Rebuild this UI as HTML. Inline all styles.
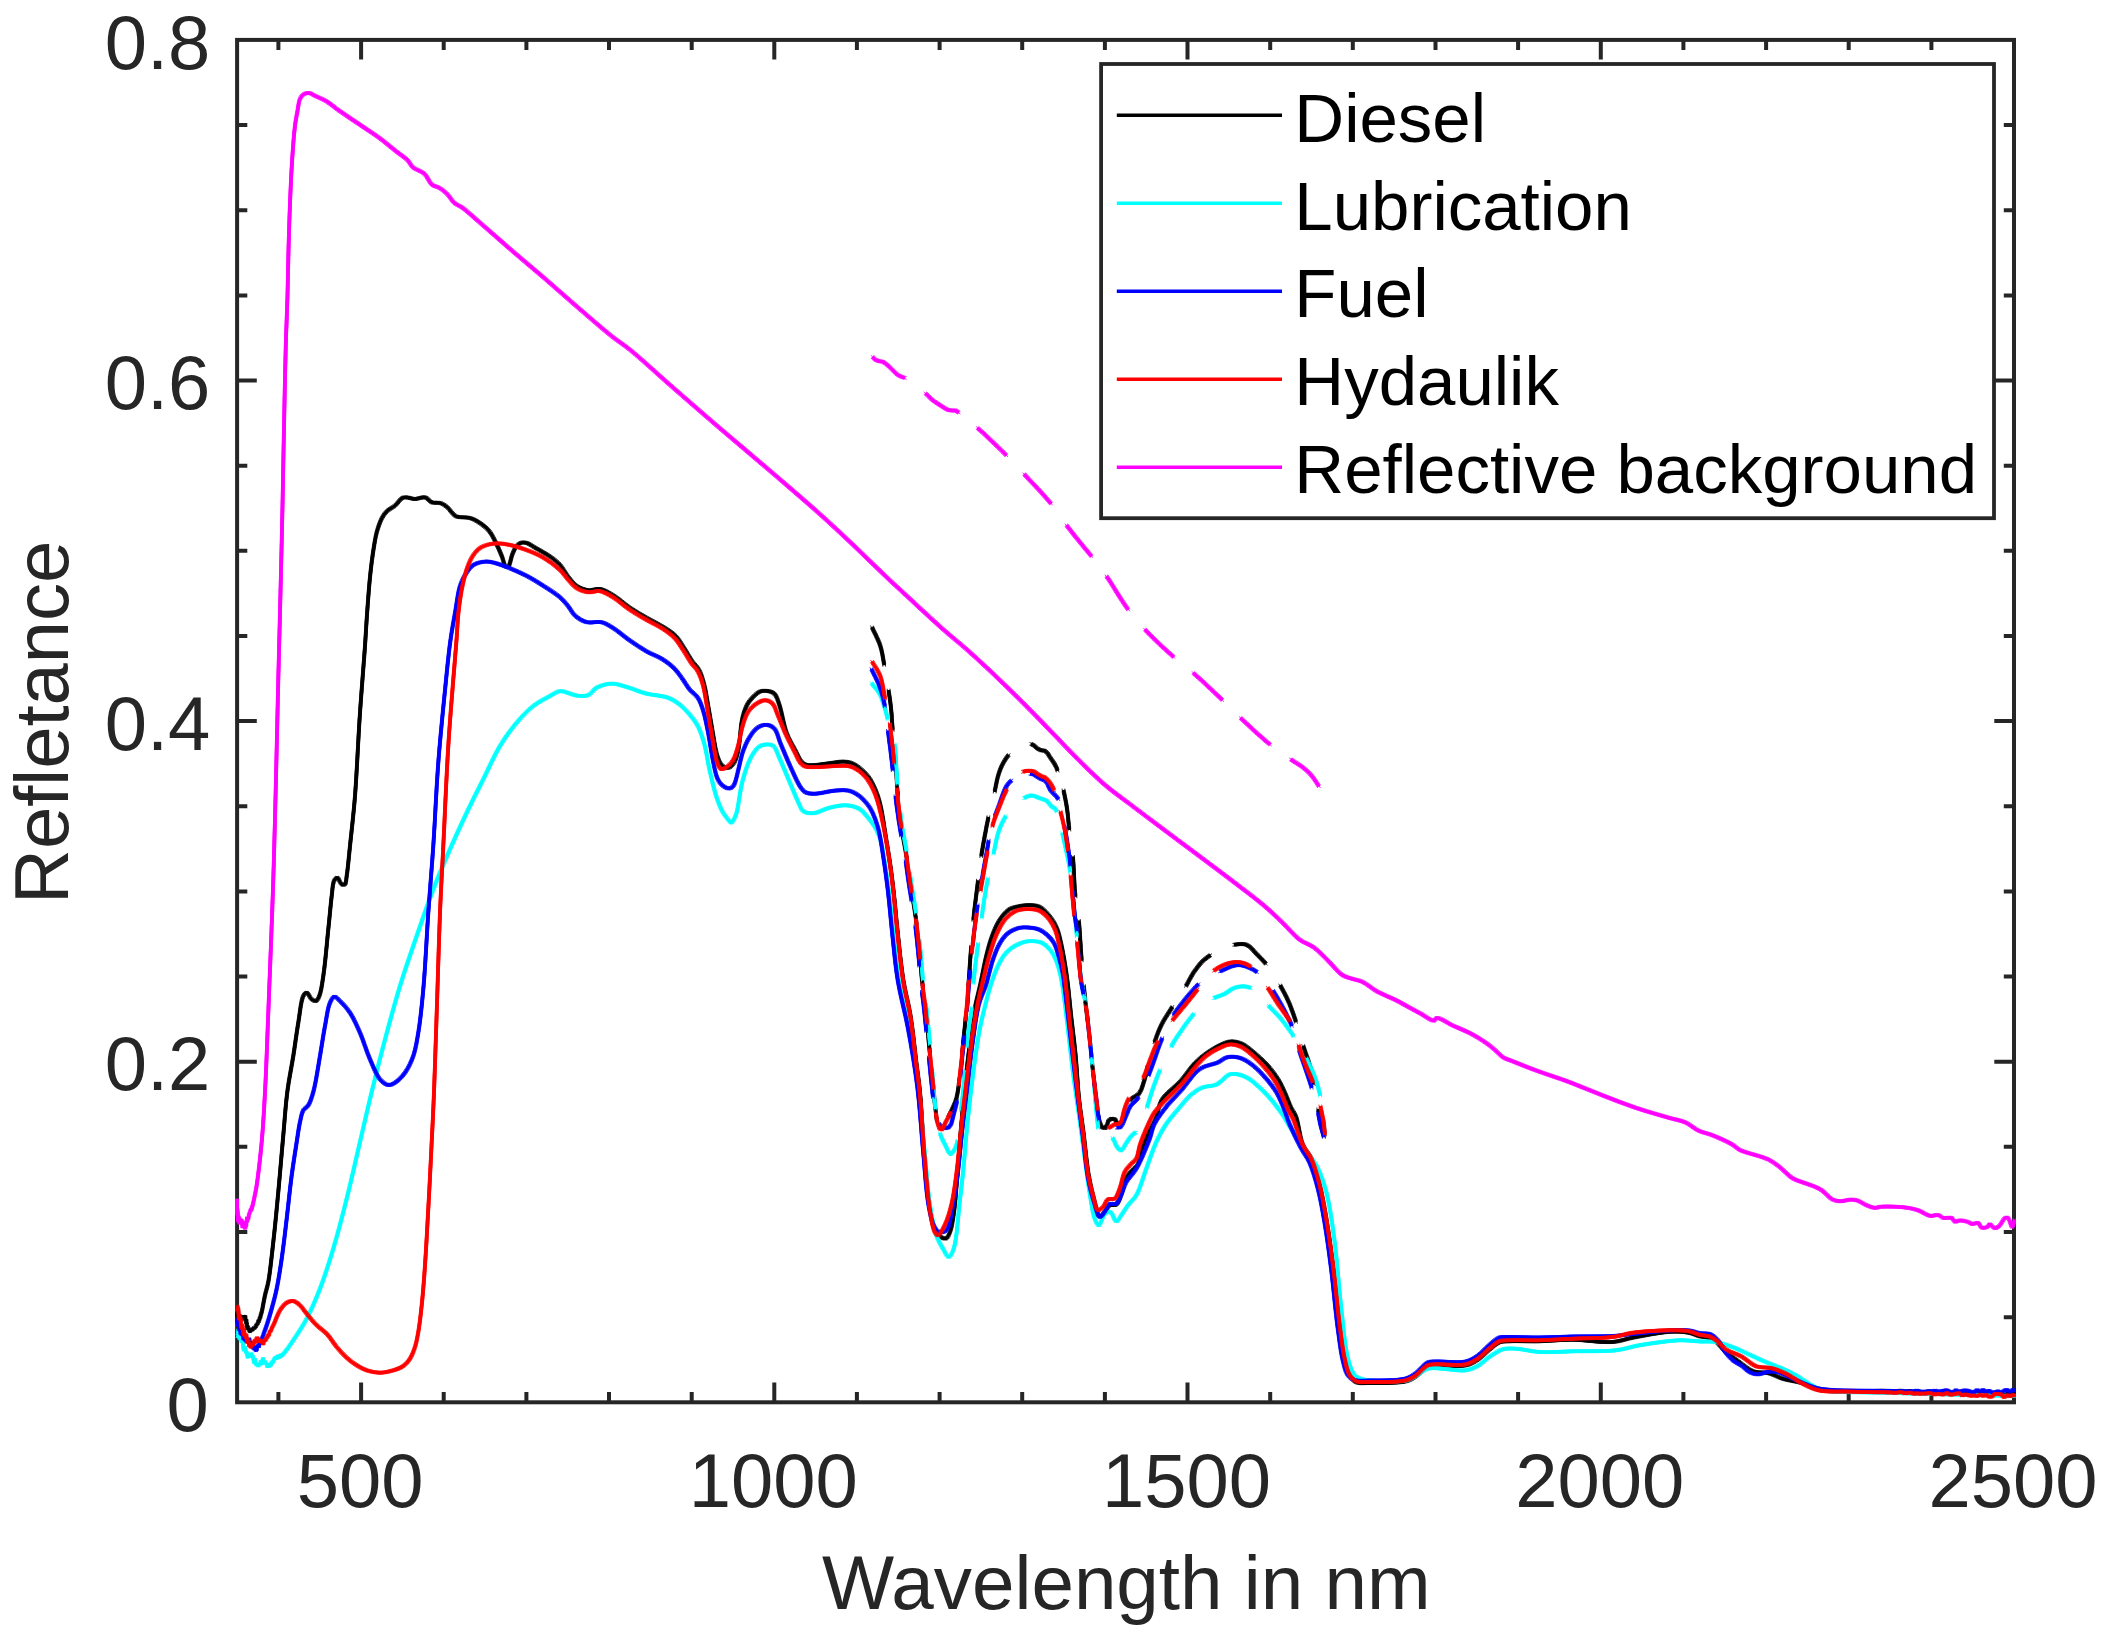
<!DOCTYPE html>
<html><head><meta charset="utf-8"><title>Reflectance spectra</title>
<style>html,body{margin:0;padding:0;background:#fff}svg{display:block}text{font-family:"Liberation Sans",Arial,Helvetica,sans-serif}</style></head>
<body>
<svg width="2109" height="1638" viewBox="0 0 2109 1638">
<rect width="2109" height="1638" fill="#fff"/>
<defs><clipPath id="c"><rect x="235.1" y="37.9" width="1780.9" height="1366.4"/></clipPath></defs>
<g stroke="#262626" stroke-width="4" fill="none" stroke-linecap="butt">
<rect x="237.1" y="39.9" width="1776.9" height="1362.4"/>
<path d="M278.4 1402.3v-10.2M278.4 39.9v10.2M361.1 1402.3v-19.7M361.1 39.9v19.7M443.7 1402.3v-10.2M443.7 39.9v10.2M526.4 1402.3v-10.2M526.4 39.9v10.2M609.0 1402.3v-10.2M609.0 39.9v10.2M691.7 1402.3v-10.2M691.7 39.9v10.2M774.3 1402.3v-19.7M774.3 39.9v19.7M856.9 1402.3v-10.2M856.9 39.9v10.2M939.6 1402.3v-10.2M939.6 39.9v10.2M1022.2 1402.3v-10.2M1022.2 39.9v10.2M1104.9 1402.3v-10.2M1104.9 39.9v10.2M1187.5 1402.3v-19.7M1187.5 39.9v19.7M1270.2 1402.3v-10.2M1270.2 39.9v10.2M1352.8 1402.3v-10.2M1352.8 39.9v10.2M1435.5 1402.3v-10.2M1435.5 39.9v10.2M1518.1 1402.3v-10.2M1518.1 39.9v10.2M1600.8 1402.3v-19.7M1600.8 39.9v19.7M1683.4 1402.3v-10.2M1683.4 39.9v10.2M1766.1 1402.3v-10.2M1766.1 39.9v10.2M1848.7 1402.3v-10.2M1848.7 39.9v10.2M1931.4 1402.3v-10.2M1931.4 39.9v10.2M237.1 1317.2h10.2M2014.0 1317.2h-10.2M237.1 1232.0h10.2M2014.0 1232.0h-10.2M237.1 1146.8h10.2M2014.0 1146.8h-10.2M237.1 1061.7h19.7M2014.0 1061.7h-19.7M237.1 976.5h10.2M2014.0 976.5h-10.2M237.1 891.4h10.2M2014.0 891.4h-10.2M237.1 806.2h10.2M2014.0 806.2h-10.2M237.1 721.1h19.7M2014.0 721.1h-19.7M237.1 636.0h10.2M2014.0 636.0h-10.2M237.1 550.8h10.2M2014.0 550.8h-10.2M237.1 465.7h10.2M2014.0 465.7h-10.2M237.1 380.5h19.7M2014.0 380.5h-19.7M237.1 295.4h10.2M2014.0 295.4h-10.2M237.1 210.2h10.2M2014.0 210.2h-10.2M237.1 125.1h10.2M2014.0 125.1h-10.2"/>
</g>
<g fill="none" stroke-width="3.9" stroke-linejoin="round" stroke-linecap="butt" clip-path="url(#c)">
<defs><path id="p1" d="M236.7 1313.4C237.1 1314.7 237.3 1316.8 237.8 1317.2C238.0 1317.4 238.3 1317.4 238.5 1317.3C238.9 1317.1 239.3 1315.8 239.6 1315.8C239.9 1315.8 240.1 1316.9 240.4 1317.1C240.6 1317.2 240.8 1317.0 241.1 1317.1C241.5 1317.2 242.0 1317.9 242.4 1318.2C242.7 1318.5 242.9 1319.0 243.2 1318.9C243.6 1318.8 243.9 1316.8 244.3 1316.6C244.5 1316.5 244.8 1316.7 245.0 1316.9C245.4 1317.5 245.3 1320.7 245.6 1320.8C245.7 1320.8 245.9 1320.4 246.0 1320.4C246.2 1320.5 246.1 1322.4 246.2 1322.4C246.3 1322.4 246.3 1320.7 246.4 1320.7C246.5 1320.7 246.5 1322.4 246.6 1323.2C246.7 1323.9 246.7 1325.1 246.8 1325.1C246.8 1325.1 246.9 1324.4 246.9 1324.4C247.0 1324.4 247.0 1327.0 247.1 1327.7C247.2 1328.0 247.2 1328.4 247.3 1328.4C247.4 1328.4 247.5 1326.8 247.7 1326.8C247.8 1326.8 247.9 1327.3 248.1 1327.7C248.4 1328.3 248.8 1329.3 249.1 1330.0C249.4 1330.6 249.6 1331.5 249.9 1331.5C250.2 1331.5 250.5 1330.4 250.8 1330.1C251.1 1329.8 251.4 1329.7 251.7 1329.6C252.0 1329.5 252.3 1329.8 252.6 1329.7C253.0 1329.5 253.2 1328.3 253.5 1328.1C253.7 1328.0 253.9 1328.1 254.1 1328.0C254.4 1327.9 254.7 1327.7 255.0 1327.5C255.2 1327.3 255.4 1327.2 255.6 1326.9C255.8 1326.5 256.0 1325.9 256.2 1325.5C256.4 1325.2 256.5 1325.0 256.7 1324.8C256.8 1324.6 256.9 1324.4 257.1 1324.2C257.2 1324.0 257.5 1323.9 257.6 1323.7C257.8 1323.4 257.9 1322.8 258.0 1322.4C258.2 1321.9 258.3 1321.0 258.5 1321.0C258.6 1321.0 258.7 1321.5 258.8 1321.5C259.0 1321.5 259.2 1320.3 259.3 1319.9C259.4 1319.6 259.4 1319.5 259.5 1319.2C259.6 1318.8 259.6 1318.1 259.8 1317.8C259.9 1317.6 260.1 1317.7 260.2 1317.5C260.4 1317.3 260.4 1316.9 260.5 1316.5C260.6 1316.1 260.6 1315.4 260.7 1315.0C260.8 1314.7 260.9 1314.6 261.0 1314.4C261.1 1314.1 261.2 1313.6 261.3 1313.3C261.4 1313.0 261.5 1312.8 261.6 1312.5C261.7 1312.1 261.8 1311.9 261.9 1311.3C262.4 1309.0 263.9 1300.4 265.0 1295.3C266.0 1290.6 267.2 1287.7 268.3 1282.0C270.1 1272.3 271.7 1256.1 273.3 1242.0C275.1 1226.3 276.7 1209.2 278.3 1192.0C280.0 1173.7 281.7 1152.9 283.3 1135.3C284.7 1119.9 285.5 1105.7 287.3 1092.0C288.9 1079.4 291.4 1067.8 293.3 1056.0C295.1 1044.7 296.5 1033.2 298.3 1022.7C299.9 1013.3 300.9 1000.5 303.3 996.0C304.3 994.1 305.5 992.6 306.7 992.7C308.3 992.8 309.9 997.9 311.7 999.3C313.1 1000.3 314.8 1001.4 316.0 1001.0C317.4 1000.6 318.3 998.4 319.3 996.0C321.1 991.7 322.1 984.1 323.3 976.0C325.2 963.7 326.8 943.6 328.3 929.3C329.6 917.3 330.6 904.9 331.7 896.0C332.5 890.0 332.5 884.1 334.0 881.0C334.9 879.3 336.2 877.6 337.3 877.7C338.7 877.8 340.1 883.4 341.7 884.3C342.7 884.9 344.2 885.0 345.0 884.3C346.3 883.2 346.1 879.6 346.7 876.0C347.8 869.1 348.8 857.3 350.0 846.0C351.5 831.5 353.5 814.8 355.0 796.0C356.9 771.8 358.2 738.9 360.0 712.7C361.6 689.2 363.7 664.5 365.0 646.0C365.9 632.8 366.3 623.8 367.2 612.0C368.1 599.3 369.2 584.1 370.5 572.4C371.5 563.1 372.6 554.9 373.8 547.5C374.8 541.4 375.6 536.1 377.1 530.9C378.5 526.2 380.2 521.3 382.1 517.7C383.6 515.0 385.1 512.9 387.1 511.0C389.2 509.0 392.1 508.0 394.6 506.0C397.4 503.7 400.1 498.8 402.9 497.7C404.8 496.9 406.8 497.5 408.7 497.7C410.6 497.9 412.3 499.0 414.5 499.1C417.5 499.2 422.3 496.6 425.3 497.4C427.9 498.1 429.4 501.5 431.9 502.4C434.4 503.3 437.7 502.2 440.2 503.0C442.6 503.8 444.6 505.1 446.9 506.9C449.9 509.2 452.4 514.5 456.0 516.3C459.6 518.0 464.9 516.9 468.4 517.7C471.0 518.3 472.6 518.8 475.1 520.1C478.9 522.2 485.0 526.3 488.4 530.1C491.4 533.4 492.9 536.9 495.0 540.9C497.4 545.4 499.8 551.2 501.7 555.8C503.3 559.7 504.1 565.5 505.8 566.6C506.6 567.1 507.5 567.2 508.3 566.6C510.0 565.3 510.9 557.9 512.4 554.2C513.7 551.1 514.8 547.9 516.6 545.9C518.0 544.3 519.9 543.1 521.6 542.6C523.2 542.2 524.7 542.4 526.5 542.9C529.0 543.6 531.6 545.6 534.8 547.5C539.4 550.2 546.9 554.2 551.4 557.5C554.9 560.0 557.3 561.9 560.0 564.9C563.0 568.3 565.4 573.4 568.3 577.0C571.0 580.3 573.3 583.8 576.6 586.0C579.9 588.2 584.3 589.8 588.2 590.3C592.0 590.8 595.9 588.3 599.8 589.0C604.2 589.7 608.6 592.6 613.1 595.3C618.5 598.5 624.1 603.9 629.7 607.7C635.1 611.4 640.7 614.5 646.3 617.7C651.8 620.9 657.8 623.6 662.9 626.8C667.5 629.7 672.0 632.4 675.6 636.0C679.0 639.5 681.3 643.8 684.0 648.0C686.8 652.3 689.6 657.6 692.3 661.5C694.6 664.7 697.1 666.6 699.0 670.0C701.2 673.9 702.6 678.7 704.0 684.0C705.8 690.4 706.8 698.4 708.2 706.0C709.7 714.1 711.0 722.8 712.5 731.0C713.9 738.8 715.1 748.1 716.8 754.0C717.9 757.9 718.9 761.1 720.5 763.5C721.8 765.3 723.4 766.9 725.0 767.5C726.4 768.0 727.9 768.1 729.3 767.5C731.1 766.7 733.1 764.4 734.5 762.0C736.4 758.7 737.4 754.3 738.5 749.0C740.1 741.3 740.3 727.9 742.0 720.0C743.2 714.4 744.7 709.7 746.5 706.0C747.8 703.3 749.0 701.6 750.9 699.4C753.1 696.8 756.4 693.3 759.2 691.9C761.4 690.8 763.6 690.6 765.9 690.8C768.5 691.0 772.1 691.7 774.2 693.6C776.7 695.8 777.6 699.8 779.2 704.4C781.8 711.7 783.7 725.3 786.8 733.5C789.2 739.9 792.4 745.0 795.1 750.0C797.4 754.3 799.3 759.5 801.7 762.0C803.3 763.6 804.7 764.4 806.7 765.0C809.2 765.7 812.2 765.2 815.7 765.0C820.7 764.7 829.1 763.2 834.0 762.6C837.3 762.2 839.5 761.6 842.2 761.6C844.8 761.6 847.4 761.7 850.0 762.5C853.0 763.5 856.0 765.3 858.9 767.5C862.2 770.0 865.8 773.4 868.5 777.0C871.4 780.8 873.5 785.4 875.5 790.0C877.6 794.9 879.0 799.4 880.5 805.6C882.6 814.3 884.2 827.0 885.9 837.4C887.5 847.4 889.2 857.1 890.6 867.0C892.0 876.9 893.1 886.4 894.2 896.7C895.4 908.0 896.3 919.5 897.7 932.2C899.3 947.0 901.0 965.3 903.3 980.0C905.3 992.8 908.4 1002.8 910.5 1015.6C912.9 1030.2 914.7 1049.1 916.4 1063.0C917.7 1073.8 918.9 1080.3 920.0 1092.0C921.7 1109.7 922.9 1138.1 924.7 1158.7C926.2 1176.6 927.4 1195.6 929.7 1208.7C931.2 1217.4 932.4 1225.0 935.0 1230.0C936.7 1233.2 938.9 1235.6 941.0 1237.0C942.6 1238.0 944.6 1239.0 946.0 1238.5C947.7 1237.9 948.9 1234.9 950.0 1232.0C951.9 1227.3 952.9 1219.5 954.0 1212.0C955.4 1202.6 956.0 1191.3 957.0 1180.0C958.1 1167.4 958.9 1153.7 960.0 1140.0C961.2 1125.4 962.5 1110.0 964.0 1095.0C965.5 1080.0 967.2 1064.5 969.0 1050.0C970.7 1036.3 972.3 1021.9 974.5 1010.0C976.3 1000.4 978.5 992.8 980.4 984.0C982.4 974.8 984.2 964.5 986.3 956.0C988.1 948.7 989.9 942.0 992.2 935.8C994.3 930.2 996.5 924.9 999.4 920.4C1002.1 916.3 1005.6 911.9 1008.8 909.7C1011.2 908.0 1013.2 907.6 1016.0 906.9C1019.7 906.0 1024.9 905.0 1029.0 905.1C1032.7 905.2 1036.3 905.2 1039.7 906.9C1043.8 909.0 1048.1 914.3 1051.1 918.2C1053.7 921.6 1055.4 924.8 1057.1 928.9C1059.2 934.0 1060.4 940.6 1061.8 946.7C1063.2 953.2 1064.4 960.5 1065.4 966.8C1066.3 972.5 1066.9 976.7 1067.7 983.0C1068.8 991.8 1069.8 1003.4 1071.0 1014.6C1072.4 1027.5 1074.4 1042.1 1075.7 1056.0C1077.0 1070.1 1077.6 1085.0 1079.0 1098.5C1080.3 1110.9 1082.2 1121.9 1083.7 1134.1C1085.3 1147.0 1086.5 1162.0 1088.5 1174.0C1090.2 1184.0 1092.4 1193.6 1094.5 1201.3C1096.1 1207.1 1097.2 1215.5 1099.5 1216.3C1100.9 1216.8 1103.0 1214.5 1104.5 1213.0C1106.4 1211.1 1107.3 1206.6 1109.5 1205.3C1111.4 1204.2 1114.4 1205.9 1116.2 1204.7C1118.5 1203.1 1119.7 1198.5 1121.2 1194.7C1123.1 1189.9 1123.9 1182.4 1126.2 1178.0C1128.0 1174.5 1130.7 1172.1 1132.8 1169.7C1134.5 1167.8 1136.5 1167.0 1137.8 1164.7C1139.7 1161.4 1139.8 1155.8 1141.5 1150.8C1143.6 1144.5 1147.2 1135.9 1149.9 1130.0C1152.0 1125.5 1154.1 1122.9 1155.9 1118.5C1158.1 1113.2 1158.2 1105.9 1161.7 1100.1C1165.8 1093.3 1174.9 1087.5 1180.6 1081.1C1185.9 1075.2 1190.0 1068.3 1194.9 1063.3C1199.0 1059.1 1203.0 1055.8 1207.5 1052.7C1212.0 1049.5 1217.4 1046.3 1221.8 1044.4C1225.2 1042.9 1227.9 1041.5 1231.2 1041.4C1234.6 1041.2 1238.5 1042.3 1241.9 1043.8C1245.6 1045.5 1248.8 1048.4 1252.6 1051.5C1257.3 1055.4 1263.2 1060.6 1267.6 1065.5C1271.7 1070.0 1275.3 1074.8 1278.3 1079.7C1281.2 1084.3 1283.2 1089.2 1285.4 1094.0C1287.5 1098.7 1289.3 1104.1 1291.3 1108.2C1292.9 1111.4 1294.5 1112.9 1296.0 1116.7C1298.6 1123.3 1299.8 1137.7 1303.0 1145.3C1305.3 1150.8 1308.8 1153.3 1311.3 1158.7C1314.6 1165.9 1317.3 1175.9 1319.7 1185.3C1322.4 1195.7 1324.2 1206.6 1326.3 1218.7C1328.7 1232.9 1330.9 1248.8 1333.0 1265.3C1335.4 1284.0 1337.5 1308.2 1339.7 1325.3C1341.4 1338.1 1342.6 1349.6 1344.7 1358.7C1346.2 1365.3 1347.3 1371.1 1349.7 1375.3C1351.5 1378.4 1353.4 1380.9 1356.3 1382.3C1359.8 1383.9 1364.1 1383.0 1369.7 1383.0C1378.8 1383.0 1397.8 1383.4 1406.0 1381.3C1410.5 1380.1 1412.7 1378.5 1416.0 1376.3C1419.9 1373.7 1423.9 1368.0 1427.7 1366.3C1430.5 1365.1 1432.4 1365.5 1436.0 1365.3C1442.9 1364.9 1458.5 1367.0 1466.0 1365.3C1471.0 1364.2 1474.0 1362.1 1477.7 1359.7C1481.8 1357.0 1485.5 1352.7 1489.3 1349.7C1492.7 1347.0 1495.8 1343.7 1499.3 1342.3C1502.5 1341.1 1505.1 1341.5 1509.3 1341.3C1516.6 1340.9 1529.0 1341.5 1539.3 1341.3C1550.1 1341.0 1561.1 1339.6 1572.7 1339.7C1585.4 1339.8 1601.7 1342.9 1612.7 1342.0C1620.6 1341.4 1625.0 1339.1 1632.7 1337.7C1643.0 1335.8 1658.9 1332.4 1669.3 1331.8C1676.9 1331.4 1683.7 1331.7 1689.3 1332.8C1693.5 1333.6 1696.5 1335.5 1700.0 1336.4C1703.4 1337.2 1707.1 1337.0 1710.0 1338.1C1712.5 1339.1 1714.4 1340.4 1716.6 1342.2C1719.5 1344.6 1722.2 1348.7 1725.6 1351.8C1729.4 1355.2 1734.0 1358.3 1738.5 1361.5C1743.2 1364.9 1748.2 1369.5 1753.4 1371.4C1758.2 1373.1 1763.5 1371.9 1768.4 1373.1C1773.5 1374.3 1777.9 1377.3 1783.3 1378.9C1789.3 1380.7 1796.7 1381.4 1802.9 1383.3C1808.7 1385.1 1813.0 1388.6 1819.5 1390.0C1827.9 1391.8 1839.4 1391.0 1849.4 1391.1C1859.5 1391.2 1874.6 1390.9 1880.0 1390.8C1882.0 1390.8 1882.8 1390.7 1884.0 1390.7C1885.1 1390.7 1886.0 1391.0 1887.0 1391.0C1888.0 1391.0 1889.0 1390.9 1890.0 1390.9C1891.0 1390.9 1892.0 1391.1 1893.0 1391.2C1894.0 1391.3 1895.0 1391.4 1896.0 1391.3C1897.0 1391.2 1898.0 1390.9 1899.0 1390.8C1900.0 1390.7 1901.0 1390.6 1902.0 1390.8C1903.0 1391.0 1904.0 1391.8 1905.0 1391.9C1906.0 1392.0 1907.0 1391.3 1908.0 1391.2C1909.0 1391.1 1910.0 1391.0 1911.0 1391.2C1912.0 1391.4 1913.0 1392.3 1914.0 1392.4C1915.0 1392.5 1916.0 1391.7 1917.0 1391.7C1918.0 1391.7 1919.0 1392.4 1920.0 1392.4C1921.0 1392.4 1922.0 1391.9 1923.0 1391.9C1924.0 1391.9 1925.0 1392.3 1926.0 1392.2C1927.0 1392.1 1928.0 1391.4 1929.0 1391.4C1930.0 1391.4 1931.0 1392.1 1932.0 1392.4C1933.0 1392.7 1934.0 1393.0 1935.0 1393.0C1936.0 1393.0 1937.0 1392.3 1938.0 1392.3C1939.0 1392.3 1940.0 1392.8 1941.0 1392.9C1942.0 1393.0 1943.0 1393.0 1944.0 1392.8C1945.0 1392.6 1946.0 1391.4 1947.0 1391.5C1948.0 1391.6 1949.0 1393.0 1950.0 1393.2C1951.0 1393.4 1952.0 1393.0 1953.0 1392.9C1954.0 1392.7 1955.0 1392.5 1956.0 1392.3C1957.0 1392.1 1958.0 1391.4 1959.0 1391.6C1960.1 1391.8 1961.0 1393.7 1962.0 1393.9C1963.0 1394.1 1964.0 1392.9 1965.0 1392.9C1966.0 1392.9 1967.0 1393.5 1968.0 1393.7C1969.0 1393.9 1970.0 1394.3 1971.0 1394.3C1972.0 1394.3 1973.0 1393.9 1974.0 1393.9C1975.0 1393.9 1976.0 1394.7 1977.0 1394.6C1978.0 1394.5 1979.0 1393.1 1980.0 1393.1C1981.0 1393.1 1982.0 1394.4 1983.0 1394.4C1984.0 1394.4 1985.0 1393.3 1986.0 1393.4C1987.0 1393.5 1988.0 1394.8 1989.0 1395.1C1990.0 1395.3 1991.1 1395.4 1992.0 1395.0C1993.1 1394.6 1993.9 1392.8 1995.0 1392.4C1995.9 1392.1 1997.0 1392.4 1998.0 1392.5C1999.0 1392.6 2000.1 1392.5 2001.0 1392.9C2002.1 1393.4 2003.0 1395.6 2004.0 1395.7C2005.0 1395.8 2006.0 1393.9 2007.0 1393.8C2008.0 1393.7 2009.0 1394.7 2010.0 1394.7C2011.0 1394.7 2012.1 1393.5 2013.0 1393.5C2013.8 1393.5 2014.5 1394.0 2015.3 1394.3"/></defs>
<g stroke="#000"><use href="#p1" stroke-width="3.40"/>
<use href="#p1" stroke-width="0.80" transform="translate(1.40 1.40)"/>
<use href="#p1" stroke-width="0.80" transform="translate(1.40 -1.40)"/>
<use href="#p1" stroke-width="0.80" transform="translate(-1.40 1.40)"/>
<use href="#p1" stroke-width="0.80" transform="translate(-1.40 -1.40)"/>
</g>
<defs><path id="p2" d="M871.9 627.0L873.6 630.7L875.4 634.3L877.1 638.0L878.8 641.7L880.2 645.5L881.3 649.4L882.2 653.3L882.9 657.3L883.6 661.3L884.3 665.3M888.5 690.1L889.1 694.1L889.8 698.1L890.3 702.1L890.8 706.1L891.2 710.2L891.6 714.2L891.8 718.2L892.1 722.3L892.4 726.3L892.7 730.4M895.1 755.3L895.4 759.3L895.7 763.3L896.0 767.4L896.2 771.4L896.5 775.5L896.7 779.5L896.9 783.6L897.2 787.6L897.5 791.6L897.9 795.7M900.3 820.6L900.9 824.6L901.5 828.6L902.1 832.6L902.9 836.6L903.7 840.6L904.4 844.5L905.2 848.5L905.8 852.5L906.5 856.5L907.1 860.5M910.6 885.3L911.2 889.3L911.9 893.3L912.5 897.3L913.2 901.3L913.9 905.3L914.5 909.3L915.1 913.3L915.7 917.3L916.2 921.3L916.7 925.3M919.2 948.0L919.6 952.1L920.0 956.1L920.4 960.1L920.7 964.2L921.0 968.2L921.3 972.2L921.6 976.3L922.0 980.3L922.5 984.3L923.0 988.4M926.1 1014.2L926.5 1018.2L926.9 1022.2L927.3 1026.3L927.7 1030.3L928.1 1034.3L928.4 1038.4L928.8 1042.4L929.2 1046.4L929.6 1050.5L930.0 1054.5M932.7 1080.4L933.1 1084.4L933.4 1088.5L933.8 1092.5L934.2 1096.5L934.5 1100.6L934.9 1104.6L935.4 1108.6L935.9 1112.6L936.3 1116.7L937.0 1120.6M948.2 1117.4L950.0 1113.8L951.7 1110.1L953.4 1106.4L955.0 1102.7L956.3 1098.8L957.2 1094.9L957.9 1090.9L958.5 1086.9L959.0 1082.9L959.4 1078.9M962.2 1053.0L962.6 1048.9L963.0 1044.9L963.3 1040.9L963.7 1036.9L964.2 1032.8L964.6 1028.8L965.0 1024.8L965.4 1020.7L965.8 1016.7L966.2 1012.7M968.3 986.7L968.6 982.7L968.9 978.7L969.2 974.6L969.5 970.6L969.7 966.5L970.0 962.5L970.3 958.5L970.6 954.4L970.9 950.4L971.2 946.3M973.3 920.4L973.7 916.4L974.1 912.3L974.6 908.3L975.1 904.3L975.6 900.3L976.1 896.3L976.6 892.2L977.1 888.2L977.6 884.2L978.1 880.2M981.2 856.6L981.8 852.6L982.5 848.6L983.2 844.6L983.9 840.7L984.6 836.7L985.4 832.7L986.1 828.7L986.9 824.7L987.7 820.8L988.5 816.8M994.6 792.0L995.4 788.0L996.2 784.1L997.0 780.1L998.0 776.2L999.2 772.3L1000.6 768.5L1002.3 764.8L1004.2 761.3L1006.4 757.8L1008.9 754.7M1030.8 743.7L1034.3 745.7L1037.3 748.4L1040.8 750.3L1044.8 750.7L1047.7 753.4L1049.8 756.9L1052.1 760.2L1054.4 763.6L1056.3 767.2L1057.7 771.0M1063.4 790.0L1064.3 793.9L1065.1 797.9L1065.9 801.9L1066.6 805.9L1067.2 809.9L1067.7 813.9L1068.1 817.9L1068.5 822.0L1068.9 826.0L1069.4 830.0M1072.9 856.4L1073.2 860.4L1073.5 864.5L1073.7 868.5L1073.9 872.6L1074.1 876.6L1074.3 880.7L1074.5 884.7L1074.7 888.7L1075.1 892.8L1075.5 896.8M1078.8 920.4L1079.2 924.4L1079.5 928.5L1079.8 932.5L1080.1 936.5L1080.3 940.6L1080.6 944.6L1080.8 948.7L1081.1 952.7L1081.4 956.8L1081.7 960.8M1083.9 985.7L1084.2 989.7L1084.6 993.8L1085.0 997.8L1085.4 1001.8L1085.8 1005.9L1086.3 1009.9L1086.8 1013.9L1087.3 1017.9L1087.8 1021.9L1088.2 1026.0M1090.9 1050.8L1091.3 1054.8L1091.7 1058.9L1092.1 1062.9L1092.5 1066.9L1092.9 1071.0L1093.4 1075.0L1093.9 1079.0L1094.3 1083.0L1094.8 1087.0L1095.3 1091.1M1098.4 1115.9L1099.1 1119.8L1100.3 1123.7L1102.0 1127.4L1105.2 1128.1L1107.2 1124.7L1108.3 1120.8L1111.4 1118.6L1115.3 1119.4L1116.8 1123.1L1119.6 1123.6M1129.8 1101.0L1132.4 1098.0L1135.9 1095.9L1139.1 1093.5L1141.1 1090.0L1142.5 1086.2L1143.7 1082.3L1144.9 1078.5L1145.8 1074.5L1146.7 1070.6L1147.5 1066.6M1154.4 1042.6L1155.8 1038.8L1157.1 1035.0L1158.6 1031.2L1160.2 1027.5L1162.0 1023.8L1163.9 1020.3L1166.0 1016.8L1168.2 1013.4L1170.4 1010.0L1172.5 1006.6M1185.8 986.3L1187.8 982.8L1189.7 979.2L1191.7 975.7L1193.8 972.2L1196.2 968.9L1198.6 965.7L1201.2 962.6L1204.1 959.8L1207.3 957.3L1210.6 955.0M1233.8 944.8L1237.8 944.3L1241.9 944.0L1245.9 944.5L1249.4 946.4L1252.3 949.2L1255.0 952.3L1257.8 955.2L1260.6 958.0L1263.4 961.0L1266.1 964.0M1280.0 985.1L1282.0 988.6L1283.9 992.2L1285.8 995.8L1287.5 999.4L1289.2 1003.1L1290.7 1006.9L1292.1 1010.7L1293.5 1014.5L1294.8 1018.3L1296.1 1022.2M1303.1 1045.6L1304.4 1049.4L1305.7 1053.3L1307.1 1057.1L1308.4 1060.9L1309.6 1064.8L1310.6 1068.7L1311.5 1072.6L1312.3 1076.6L1313.1 1080.6L1313.9 1084.6M1318.2 1108.9L1318.8 1112.9L1319.5 1117.0L1320.2 1121.0L1321.0 1125.1L1321.9 1129.1L1323.0 1133.0L1324.0 1137.0"/></defs>
<g stroke="#000"><use href="#p2" stroke-width="3.40"/>
<use href="#p2" stroke-width="0.80" transform="translate(1.40 1.40)"/>
<use href="#p2" stroke-width="0.80" transform="translate(1.40 -1.40)"/>
<use href="#p2" stroke-width="0.80" transform="translate(-1.40 1.40)"/>
<use href="#p2" stroke-width="0.80" transform="translate(-1.40 -1.40)"/>
</g>
<defs><path id="p3" d="M237.3 1335.6C237.5 1335.9 237.7 1336.6 237.9 1336.6C238.3 1336.5 238.0 1330.3 238.3 1330.3C238.4 1330.3 238.7 1331.0 238.8 1331.6C239.1 1333.0 238.9 1338.1 239.4 1338.4C239.5 1338.5 239.7 1338.3 239.8 1338.3C240.0 1338.4 240.2 1338.9 240.4 1338.9C240.6 1338.8 240.7 1336.9 240.8 1336.9C240.9 1336.9 240.9 1339.1 241.1 1339.9C241.2 1340.4 241.5 1340.8 241.7 1341.1C241.8 1341.3 241.9 1341.6 242.0 1341.6C242.2 1341.6 242.3 1339.7 242.4 1339.7C242.5 1339.7 242.6 1341.8 242.7 1342.4C242.8 1342.7 242.8 1342.7 242.9 1343.0C243.1 1343.7 243.2 1345.5 243.3 1346.6C243.4 1347.6 243.5 1348.7 243.6 1349.3C243.7 1349.6 243.7 1349.9 243.8 1349.9C243.9 1349.9 243.9 1348.0 244.1 1347.9C244.2 1347.9 244.3 1348.1 244.4 1348.1C244.5 1348.2 244.7 1348.3 244.8 1348.2C244.9 1348.1 244.9 1347.4 245.0 1347.4C245.1 1347.4 245.4 1348.0 245.5 1348.5C245.7 1349.3 245.5 1351.8 245.8 1352.1C245.9 1352.2 246.1 1351.9 246.3 1352.0C246.6 1352.1 246.8 1352.7 247.0 1353.3C247.3 1354.2 247.3 1357.0 247.7 1357.1C248.0 1357.2 248.3 1355.6 248.7 1355.5C249.0 1355.4 249.3 1356.1 249.5 1356.0C249.8 1355.9 249.9 1354.9 250.2 1354.5C250.5 1354.2 251.0 1353.8 251.3 1353.9C251.7 1354.1 251.6 1356.0 252.0 1356.2C252.2 1356.3 252.6 1356.0 252.8 1356.1C253.2 1356.4 253.2 1357.9 253.4 1358.9C253.6 1360.0 253.7 1362.4 254.0 1362.4C254.2 1362.4 254.4 1361.7 254.6 1361.3C254.8 1360.8 254.9 1359.4 255.1 1359.4C255.3 1359.4 255.2 1363.2 255.7 1363.9C255.9 1364.2 256.3 1364.2 256.6 1364.3C256.8 1364.4 257.0 1364.3 257.2 1364.4C257.5 1364.6 257.7 1365.6 258.0 1365.7C258.3 1365.8 258.7 1365.1 259.0 1364.9C259.3 1364.7 259.7 1364.7 260.0 1364.3C260.4 1363.7 260.5 1361.5 260.7 1361.5C260.9 1361.5 261.0 1363.7 261.3 1363.8C261.5 1363.8 261.8 1363.4 262.0 1363.0C262.4 1362.2 262.7 1358.8 263.0 1358.8C263.3 1358.8 263.5 1361.2 263.9 1361.7C264.1 1361.9 264.3 1361.9 264.5 1362.0C264.8 1362.1 265.2 1361.8 265.4 1362.0C265.7 1362.2 265.7 1362.9 265.9 1363.2C266.1 1363.5 266.3 1363.6 266.5 1363.9C266.8 1364.4 266.9 1366.3 267.1 1366.3C267.3 1366.3 267.5 1365.1 267.7 1365.1C268.0 1365.1 268.3 1366.6 268.6 1366.6C268.9 1366.6 269.1 1364.4 269.4 1364.4C269.6 1364.4 269.9 1365.6 270.2 1365.6C270.5 1365.6 270.9 1365.1 271.1 1364.7C271.4 1364.1 271.3 1362.8 271.6 1362.4C271.8 1362.2 272.0 1362.0 272.2 1362.0C272.4 1362.0 272.6 1362.5 272.8 1362.4C273.1 1362.3 273.2 1361.5 273.4 1361.0C273.6 1360.5 273.7 1360.0 274.0 1359.5C274.3 1359.0 274.7 1358.2 275.0 1357.9C275.2 1357.7 275.4 1357.7 275.6 1357.7C275.9 1357.7 276.3 1358.3 276.6 1358.2C277.0 1358.1 277.0 1356.3 277.3 1356.3C277.6 1356.3 278.1 1357.8 278.4 1357.8C278.7 1357.8 278.8 1355.9 279.1 1355.8C279.4 1355.7 279.9 1356.9 280.2 1356.8C280.5 1356.7 280.6 1355.1 280.9 1355.0C281.2 1354.9 281.6 1355.8 281.9 1355.7C282.2 1355.6 282.4 1355.0 282.6 1354.7C282.8 1354.4 283.0 1354.0 283.3 1353.7C283.5 1353.4 283.8 1353.2 284.1 1353.0C284.3 1352.8 284.6 1352.6 284.8 1352.4C285.0 1352.2 285.1 1352.0 285.3 1351.7C285.5 1351.3 285.9 1350.8 286.1 1350.4C286.3 1350.1 286.3 1349.9 286.5 1349.7C286.7 1349.4 287.1 1349.2 287.3 1349.0C287.5 1348.9 287.6 1348.9 287.8 1348.8C288.1 1348.6 288.3 1347.8 288.5 1347.4C288.7 1347.0 288.8 1346.6 289.0 1346.4C289.1 1346.2 289.2 1346.2 289.4 1346.0C290.1 1345.2 291.6 1342.8 293.3 1340.3C296.5 1335.4 302.5 1326.6 306.7 1318.7C311.5 1309.7 315.8 1299.5 320.0 1288.7C324.7 1276.4 329.1 1262.8 333.3 1248.7C338.0 1233.0 342.4 1215.9 346.7 1198.7C351.3 1180.4 355.7 1160.3 360.0 1142.0C364.0 1124.8 367.7 1108.3 371.7 1092.0C375.5 1076.3 379.0 1062.3 383.3 1046.0C388.3 1027.3 394.2 1005.0 400.0 986.0C405.4 968.5 411.1 952.4 416.7 936.0C422.2 920.1 427.6 904.2 433.3 889.3C438.7 875.4 444.3 862.3 450.0 849.3C455.5 836.8 461.0 824.6 466.7 812.7C472.1 801.3 477.7 790.4 483.3 779.3C488.8 768.2 494.0 755.9 500.0 746.0C505.2 737.3 510.9 729.6 516.7 722.7C522.0 716.4 527.5 710.6 533.3 706.0C538.6 701.8 545.1 698.7 550.0 696.0C553.7 694.0 556.6 691.5 560.0 691.1C563.3 690.8 567.0 692.8 570.0 693.6C572.4 694.3 574.1 695.3 576.6 695.6C579.9 696.0 584.9 696.5 588.2 695.2C591.5 693.9 593.1 689.7 596.5 687.8C600.6 685.6 606.5 683.7 611.5 683.6C616.5 683.5 621.1 685.4 626.4 686.9C632.6 688.6 639.5 691.8 646.3 693.6C653.3 695.4 662.0 695.5 667.9 697.7C672.5 699.4 675.9 701.7 679.5 704.4C683.2 707.2 686.5 710.7 689.5 714.3C692.6 717.9 695.4 721.4 697.8 725.9C700.6 731.1 702.5 737.6 704.4 744.2C706.5 751.8 707.5 760.7 709.4 769.1C711.4 777.8 713.6 788.0 716.1 795.7C718.1 801.9 720.3 807.8 722.7 812.0C724.4 815.0 726.4 817.4 728.0 819.3C729.2 820.7 730.2 822.8 731.3 822.7C732.5 822.6 733.8 819.5 734.7 817.7C735.6 815.9 736.1 814.7 736.8 812.0C738.5 805.8 740.0 790.3 742.6 780.7C744.9 772.3 747.6 763.6 750.9 757.5C753.4 753.0 756.2 748.8 759.2 746.7C761.3 745.2 763.6 744.7 765.9 744.5C768.3 744.3 771.3 744.4 773.3 745.9C776.0 747.9 777.1 752.9 779.2 757.5C782.2 763.9 785.8 773.0 789.1 780.7C792.4 788.5 796.4 798.5 799.1 804.0C800.6 807.1 800.9 809.4 803.0 811.0C805.3 812.8 809.3 813.5 813.0 813.3C817.9 813.1 824.1 809.0 829.7 807.7C835.2 806.4 841.1 805.0 846.3 805.3C851.0 805.6 855.8 806.9 859.5 809.0C862.9 811.0 865.2 814.2 867.8 817.3C870.7 820.8 873.9 825.0 876.1 829.1C878.2 832.9 879.5 836.4 880.8 841.0C882.5 847.1 883.4 854.9 884.7 862.7C886.2 871.9 887.6 881.8 889.0 893.0C890.7 906.9 892.3 924.8 894.0 940.0C895.6 954.4 896.6 967.7 899.0 982.0C901.5 997.3 905.9 1012.4 909.0 1029.0C912.5 1047.5 915.9 1068.0 918.5 1088.0C921.1 1108.4 922.5 1130.0 924.5 1150.0C926.4 1168.9 927.6 1189.4 930.0 1205.0C931.8 1216.6 933.5 1227.4 936.3 1235.3C938.2 1240.8 940.7 1244.8 943.0 1248.7C944.9 1251.9 946.9 1257.1 948.7 1257.0C950.5 1256.9 952.3 1252.8 953.7 1248.7C956.9 1239.6 958.1 1215.6 959.7 1202.0C961.0 1191.5 961.8 1184.5 962.9 1174.0C964.3 1160.6 965.4 1144.0 967.0 1128.2C968.7 1111.1 970.7 1092.0 973.0 1074.8C975.1 1058.5 977.4 1041.3 980.1 1027.4C982.3 1016.3 985.1 1005.8 987.2 997.8C988.6 992.3 989.5 988.9 991.1 984.0C993.0 978.2 995.4 970.9 998.2 965.4C1000.6 960.5 1003.3 955.9 1006.5 952.4C1009.3 949.4 1012.7 947.1 1016.0 945.3C1019.0 943.6 1022.4 942.4 1025.4 941.7C1027.9 941.1 1030.0 941.0 1032.5 941.1C1035.4 941.3 1039.1 941.5 1042.0 942.9C1045.1 944.4 1048.0 947.1 1050.3 950.0C1052.8 953.0 1054.7 956.8 1056.3 960.7C1058.1 965.0 1059.3 970.1 1060.4 974.9C1061.5 979.7 1062.1 983.3 1063.0 989.3C1064.5 999.3 1066.4 1015.7 1068.0 1029.3C1069.7 1043.5 1071.2 1058.3 1073.0 1072.7C1074.8 1086.9 1077.0 1100.7 1079.0 1115.0C1081.0 1129.8 1083.1 1145.9 1085.0 1160.0C1086.7 1172.4 1088.2 1184.5 1090.0 1195.0C1091.5 1203.7 1092.6 1213.4 1094.7 1218.7C1095.9 1221.7 1097.2 1225.3 1098.7 1225.3C1100.6 1225.3 1102.5 1215.8 1105.0 1213.7C1106.6 1212.4 1108.7 1211.4 1110.3 1212.0C1112.6 1212.8 1114.3 1221.2 1116.3 1221.3C1118.0 1221.4 1119.6 1217.6 1121.3 1215.3C1123.4 1212.4 1125.6 1208.6 1128.0 1205.3C1130.5 1201.9 1133.7 1199.7 1136.3 1195.3C1140.1 1188.8 1143.0 1177.6 1146.3 1168.7C1149.6 1159.8 1152.7 1149.9 1156.3 1142.0C1159.4 1135.3 1162.4 1129.7 1166.2 1124.0C1170.0 1118.3 1175.0 1112.8 1179.3 1107.8C1183.3 1103.2 1187.0 1098.3 1191.1 1094.8C1194.6 1091.8 1197.8 1089.4 1201.8 1087.7C1206.0 1085.9 1212.4 1086.3 1216.0 1084.7C1218.5 1083.6 1219.9 1082.1 1221.9 1080.5C1224.2 1078.7 1226.5 1075.6 1229.1 1074.6C1231.3 1073.7 1233.6 1073.7 1236.2 1074.0C1239.7 1074.5 1244.1 1076.0 1248.0 1078.2C1252.8 1080.9 1257.8 1085.8 1262.2 1090.0C1266.5 1094.1 1270.5 1098.6 1274.1 1103.1C1277.6 1107.4 1280.8 1111.9 1283.6 1116.1C1286.0 1119.8 1287.6 1123.1 1290.0 1127.0C1292.9 1131.6 1296.9 1137.3 1300.0 1142.0C1302.8 1146.2 1305.3 1150.1 1308.0 1154.0C1310.7 1157.9 1313.7 1160.5 1316.3 1165.3C1320.0 1172.1 1323.5 1181.6 1326.3 1192.0C1330.0 1205.9 1332.3 1224.1 1334.7 1242.0C1337.4 1262.6 1338.9 1288.1 1341.3 1308.7C1343.4 1326.6 1344.8 1346.7 1348.0 1358.7C1349.9 1365.9 1351.5 1371.9 1354.7 1375.3C1357.0 1377.7 1359.6 1378.4 1363.0 1379.3C1367.6 1380.6 1373.7 1380.7 1380.0 1381.0C1387.7 1381.3 1399.5 1382.0 1406.0 1380.5C1410.2 1379.5 1412.6 1377.8 1416.0 1376.0C1419.8 1374.0 1422.4 1370.1 1427.7 1368.7C1436.6 1366.4 1457.0 1371.7 1466.0 1370.3C1471.1 1369.5 1474.0 1368.1 1477.7 1366.0C1481.8 1363.8 1485.2 1359.8 1489.3 1357.0C1493.5 1354.2 1498.1 1350.6 1502.7 1349.3C1507.0 1348.0 1511.0 1348.5 1516.0 1348.7C1522.7 1349.0 1530.8 1351.5 1539.3 1352.0C1549.4 1352.6 1560.8 1351.6 1572.7 1351.3C1586.2 1351.0 1603.8 1351.7 1616.0 1350.3C1625.0 1349.2 1630.5 1346.8 1639.3 1345.3C1650.8 1343.4 1668.1 1340.7 1679.3 1340.3C1687.3 1340.0 1693.7 1341.2 1700.0 1341.5C1705.4 1341.7 1709.7 1341.1 1714.9 1341.9C1720.7 1342.8 1727.3 1345.1 1733.2 1347.3C1738.9 1349.4 1744.3 1352.3 1749.8 1354.8C1755.3 1357.3 1760.8 1359.9 1766.4 1362.3C1771.9 1364.6 1777.8 1366.6 1783.0 1368.9C1787.7 1371.0 1792.1 1373.1 1796.3 1375.5C1800.4 1377.8 1804.0 1380.7 1807.9 1383.0C1811.7 1385.3 1815.4 1387.9 1819.5 1389.3C1823.5 1390.7 1826.6 1391.0 1832.0 1391.5C1841.6 1392.5 1857.5 1392.1 1872.7 1392.5C1892.2 1393.0 1916.4 1393.6 1939.3 1394.2C1963.8 1394.8 1990.0 1395.4 2015.3 1396.0"/></defs>
<g stroke="#0ff"><use href="#p3" stroke-width="3.40"/>
<use href="#p3" stroke-width="0.80" transform="translate(1.40 1.40)"/>
<use href="#p3" stroke-width="0.80" transform="translate(1.40 -1.40)"/>
<use href="#p3" stroke-width="0.80" transform="translate(-1.40 1.40)"/>
<use href="#p3" stroke-width="0.80" transform="translate(-1.40 -1.40)"/>
</g>
<defs><path id="p4" d="M871.3 683.0L873.9 686.1L876.5 689.2L878.9 692.5L880.8 696.0L882.2 699.8L883.5 703.7L884.7 707.5L885.8 711.4L886.8 715.4L887.8 719.3M894.5 744.0L895.1 748.0L895.4 752.0L895.8 756.1L896.0 760.1L896.2 764.2L896.4 768.2L896.6 772.3L896.9 776.3L897.1 780.3L897.5 784.4M900.2 811.6L900.7 815.6L901.2 819.6L901.7 823.7L902.3 827.7L903.0 831.7L903.7 835.6L904.5 839.6L905.3 843.6L906.0 847.6L906.7 851.6M909.8 873.2L910.4 877.3L911.0 881.3L911.6 885.3L912.2 889.3L912.9 893.3L913.5 897.3L914.2 901.3L914.9 905.3L915.5 909.2L916.1 913.3M919.4 940.0L919.8 944.0L920.2 948.0L920.6 952.0L921.0 956.1L921.4 960.1L921.7 964.1L922.0 968.2L922.3 972.2L922.6 976.3L923.0 980.3M926.0 1004.3L926.5 1008.3L926.9 1012.4L927.3 1016.4L927.7 1020.4L928.1 1024.5L928.5 1028.5L928.9 1032.5L929.3 1036.6L929.7 1040.6L930.0 1044.6M932.0 1068.7L932.4 1072.8L932.7 1076.8L933.0 1080.9L933.3 1084.9L933.6 1088.9L933.9 1093.0L934.2 1097.0L934.6 1101.0L935.1 1105.1L935.6 1109.1M939.8 1132.9L941.2 1136.7L942.8 1140.4L944.7 1144.0L946.5 1147.6L948.1 1151.3L950.6 1154.3L953.4 1151.5L955.4 1148.0L956.8 1144.2L957.7 1140.2M961.1 1110.4L961.5 1106.4L961.9 1102.3L962.4 1098.3L962.8 1094.3L963.2 1090.3L963.6 1086.2L964.0 1082.2L964.4 1078.2L964.8 1074.1L965.1 1070.1M966.9 1047.7L967.2 1043.7L967.6 1039.6L968.0 1035.6L968.4 1031.6L968.9 1027.6L969.5 1023.6L970.1 1019.6L970.7 1015.6L971.3 1011.5L971.8 1007.5M973.3 983.6L973.7 979.5L974.2 975.5L974.6 971.5L975.1 967.5L975.6 963.4L976.1 959.4L976.6 955.4L977.1 951.4L977.6 947.4L978.1 943.3M981.6 918.0L982.2 914.0L982.7 910.0L983.3 906.0L983.9 902.0L984.5 898.0L985.2 894.0L985.8 890.0L986.5 886.0L987.3 882.0L988.0 878.0M993.4 854.0L994.3 850.0L995.1 846.1L995.9 842.1L996.8 838.2L997.8 834.2L999.0 830.4L1000.4 826.6L1002.1 822.9L1004.0 819.3L1006.0 815.8M1023.7 798.3L1027.3 796.5L1031.2 795.3L1035.1 796.2L1038.7 797.9L1042.6 799.1L1046.4 800.5L1049.1 803.4L1051.5 806.6L1055.1 808.5L1057.1 811.9M1062.2 832.7L1063.1 836.6L1064.0 840.6L1064.9 844.5L1065.8 848.5L1066.6 852.5L1067.5 856.4L1068.3 860.4L1069.0 864.4L1069.7 868.4L1070.4 872.4M1073.0 896.1L1073.4 900.2L1073.7 904.2L1074.0 908.3L1074.4 912.3L1074.8 916.3L1075.3 920.3L1075.7 924.4L1076.1 928.4L1076.5 932.4L1076.9 936.5M1079.2 960.3L1079.5 964.3L1079.9 968.4L1080.3 972.4L1080.8 976.4L1081.3 980.4L1081.9 984.4L1082.6 988.4L1083.4 992.4L1084.2 996.3L1085.0 1000.3M1088.1 1024.1L1088.5 1028.1L1089.0 1032.1L1089.4 1036.1L1089.8 1040.2L1090.3 1044.2L1090.7 1048.2L1091.1 1052.3L1091.5 1056.3L1091.9 1060.3L1092.3 1064.3M1094.3 1088.2L1094.7 1092.2L1095.0 1096.3L1095.3 1100.3L1095.7 1104.3L1096.1 1108.4L1096.5 1112.4L1096.9 1116.4L1097.3 1120.5L1097.8 1124.5L1098.3 1128.5M1112.3 1137.7L1114.3 1141.1L1115.8 1144.9L1118.0 1148.3L1121.1 1150.7L1123.7 1147.7L1125.5 1144.2L1127.8 1140.8L1130.1 1137.4L1132.8 1134.4L1136.1 1132.2M1146.7 1107.8L1148.0 1104.0L1149.2 1100.1L1150.4 1096.2L1151.6 1092.4L1152.9 1088.5L1154.3 1084.7L1155.7 1080.9L1157.1 1077.1L1158.6 1073.4L1160.2 1069.6M1171.0 1046.8L1173.0 1043.3L1175.1 1039.8L1177.3 1036.4L1179.6 1033.1L1181.9 1029.7L1184.2 1026.4L1186.6 1023.1L1189.0 1019.9L1191.5 1016.7L1194.1 1013.6M1213.6 998.2L1217.3 996.7L1221.2 995.3L1224.9 993.7L1228.3 991.5L1231.6 989.2L1235.3 987.6L1239.2 986.6L1243.3 986.3L1247.3 986.8L1251.1 988.1M1268.2 1005.3L1271.0 1008.2L1273.8 1011.1L1276.6 1014.0L1279.4 1017.0L1282.0 1020.1L1284.5 1023.3L1286.9 1026.5L1289.3 1029.8L1291.6 1033.1L1293.8 1036.5M1306.1 1058.0L1307.9 1061.6L1309.7 1065.2L1311.5 1068.9L1313.1 1072.6L1314.6 1076.4L1316.0 1080.2L1317.2 1084.0L1318.3 1087.9L1319.3 1091.8L1320.3 1095.8M1323.6 1120.3L1324.1 1125.2L1324.5 1130.1L1325.0 1135.0"/></defs>
<g stroke="#0ff"><use href="#p4" stroke-width="3.40"/>
<use href="#p4" stroke-width="0.80" transform="translate(1.40 1.40)"/>
<use href="#p4" stroke-width="0.80" transform="translate(1.40 -1.40)"/>
<use href="#p4" stroke-width="0.80" transform="translate(-1.40 1.40)"/>
<use href="#p4" stroke-width="0.80" transform="translate(-1.40 -1.40)"/>
</g>
<defs><path id="p5" d="M236.7 1318.2C236.8 1319.4 236.9 1321.8 237.1 1321.8C237.2 1321.8 237.3 1321.2 237.4 1321.2C237.6 1321.2 237.8 1323.4 237.9 1324.1C238.0 1324.5 238.0 1325.0 238.1 1325.0C238.2 1325.0 238.4 1322.1 238.6 1322.0C238.7 1322.0 238.8 1322.2 238.9 1322.4C239.2 1323.3 239.1 1329.6 239.3 1329.6C239.4 1329.6 239.5 1326.2 239.7 1326.2C239.8 1326.2 239.9 1326.5 240.0 1326.8C240.3 1327.8 240.3 1333.2 240.5 1333.2C240.6 1333.2 240.7 1330.4 240.8 1330.4C240.9 1330.4 241.1 1334.0 241.3 1334.0C241.4 1334.0 241.6 1332.5 241.7 1332.5C241.8 1332.5 241.9 1334.3 242.0 1334.3C242.1 1334.3 242.3 1332.0 242.4 1332.0C242.6 1332.0 242.7 1335.1 242.9 1336.3C243.0 1337.1 243.2 1338.4 243.3 1338.4C243.4 1338.4 243.6 1337.0 243.7 1337.0C243.9 1337.0 244.0 1338.9 244.3 1339.3C244.5 1339.5 244.8 1339.8 245.0 1339.7C245.4 1339.5 245.5 1336.9 245.7 1336.9C245.9 1336.9 245.8 1341.0 246.3 1341.3C246.6 1341.5 247.1 1341.1 247.4 1340.9C247.7 1340.6 247.9 1340.1 248.2 1339.8C248.5 1339.5 249.0 1339.0 249.3 1339.1C249.8 1339.3 249.7 1343.8 250.0 1343.8C250.2 1343.8 250.4 1342.4 250.6 1342.4C250.9 1342.4 251.1 1343.9 251.4 1344.6C251.6 1345.1 251.7 1345.9 252.0 1346.1C252.1 1346.2 252.4 1346.1 252.5 1346.2C252.8 1346.4 252.9 1347.9 253.1 1347.9C253.3 1347.9 253.4 1346.4 253.6 1346.4C253.8 1346.4 253.9 1348.7 254.2 1348.8C254.4 1348.9 254.8 1348.0 255.0 1348.1C255.3 1348.2 255.3 1350.1 255.7 1350.3C256.0 1350.4 256.4 1350.1 256.7 1349.8C257.1 1349.2 256.9 1347.1 257.3 1346.4C257.5 1346.0 257.8 1345.9 258.0 1345.7C258.2 1345.5 258.3 1345.3 258.4 1345.3C258.6 1345.3 258.8 1346.4 259.0 1346.4C259.2 1346.4 259.2 1344.4 259.4 1343.9C259.5 1343.7 259.7 1343.7 259.8 1343.5C260.0 1343.1 260.0 1342.2 260.2 1341.8C260.3 1341.6 260.5 1341.5 260.6 1341.3C260.8 1341.0 260.9 1340.6 261.0 1340.2C261.1 1339.9 261.2 1339.4 261.3 1339.2C261.4 1339.0 261.6 1339.0 261.7 1338.8C261.8 1338.6 261.9 1338.3 262.0 1338.1C262.1 1337.9 262.4 1337.7 262.5 1337.4C262.7 1337.0 262.8 1336.4 262.9 1336.0C263.0 1335.8 263.1 1335.6 263.2 1335.4C263.3 1335.1 263.4 1334.8 263.5 1334.5C263.6 1334.1 263.7 1333.8 263.9 1333.1C264.4 1331.5 265.7 1328.4 266.7 1325.3C268.2 1320.8 270.1 1314.5 271.7 1308.7C273.4 1302.4 275.2 1296.1 276.7 1288.7C278.6 1279.7 280.1 1269.4 281.7 1258.7C283.5 1246.3 285.1 1232.3 286.7 1218.7C288.4 1204.5 289.9 1188.8 291.7 1175.3C293.3 1163.5 295.2 1151.7 296.7 1142.0C297.9 1134.5 298.7 1127.7 300.0 1122.0C301.0 1117.5 301.6 1113.2 303.3 1110.3C304.6 1108.1 306.8 1107.6 308.3 1105.3C310.4 1102.1 311.7 1097.6 313.3 1092.0C315.8 1083.0 318.0 1067.5 320.0 1056.0C321.8 1045.6 323.2 1035.3 325.0 1026.0C326.6 1017.7 327.7 1007.8 330.0 1002.7C331.3 999.9 332.6 997.0 334.3 996.7C336.0 996.4 337.9 999.1 340.0 1001.0C343.0 1003.8 346.9 1008.1 350.0 1012.7C353.7 1018.3 356.8 1025.5 360.0 1032.7C363.6 1040.9 366.4 1051.1 370.0 1059.3C373.2 1066.5 376.2 1074.9 380.0 1079.3C382.6 1082.2 385.6 1084.6 388.3 1085.0C390.6 1085.3 392.7 1084.1 395.0 1082.7C398.2 1080.7 402.1 1076.7 405.0 1072.7C408.3 1068.1 411.1 1062.2 413.3 1056.0C415.7 1049.0 416.8 1041.7 418.3 1032.7C420.3 1020.5 421.8 1005.8 423.3 989.3C425.3 967.4 426.6 937.3 428.3 912.7C429.9 889.7 431.7 869.5 433.3 846.0C435.1 819.8 436.2 789.6 438.3 762.7C440.2 737.4 442.9 711.3 445.1 689.3C446.9 671.2 448.5 654.1 450.5 640.0C452.0 629.3 453.6 621.2 455.2 612.0C456.8 603.1 457.7 592.8 460.1 585.7C461.9 580.4 464.3 576.1 466.8 572.4C468.8 569.4 470.6 566.8 473.4 565.0C476.5 563.0 481.2 561.9 485.0 561.6C488.4 561.3 491.4 562.1 495.0 563.0C499.5 564.1 504.9 566.3 510.0 568.3C515.4 570.5 521.1 573.0 526.5 575.8C532.1 578.7 537.7 582.2 543.2 585.7C548.9 589.3 555.5 593.4 560.0 597.3C563.5 600.3 565.8 603.3 568.3 606.4C570.7 609.4 572.1 612.9 574.9 615.5C578.0 618.3 582.3 621.1 586.6 622.2C591.1 623.4 597.0 621.1 601.5 622.2C605.7 623.2 609.0 625.5 613.1 628.0C618.3 631.2 624.1 636.5 629.7 640.4C635.2 644.2 640.7 648.0 646.3 651.2C651.7 654.3 658.0 656.4 662.9 659.5C667.3 662.3 671.2 665.3 674.6 668.7C677.8 672.0 680.3 675.9 682.9 679.5C685.3 682.8 687.0 686.4 689.5 689.4C692.0 692.4 695.6 694.5 697.8 697.7C700.1 701.1 701.3 704.8 702.8 709.4C704.8 715.4 706.2 723.2 707.8 730.9C709.6 739.7 710.9 750.6 712.7 759.2C714.2 766.4 715.4 774.4 717.7 779.1C719.1 782.1 720.7 784.1 722.7 785.7C724.6 787.2 727.4 788.7 729.3 788.5C730.9 788.3 732.3 787.4 733.5 785.7C735.8 782.6 737.0 774.7 738.5 769.1C740.0 763.6 740.8 757.8 742.6 752.5C744.4 747.3 746.6 741.9 749.3 737.6C751.7 733.7 754.5 729.7 757.6 727.6C760.1 725.9 763.2 724.7 765.9 724.8C768.7 724.9 771.9 726.1 774.2 728.4C777.3 731.6 778.4 738.4 780.8 744.2C783.8 751.2 787.4 760.1 790.8 767.5C794.0 774.4 797.6 783.1 800.7 787.4C802.4 789.8 803.5 791.3 805.7 792.4C808.3 793.7 811.9 793.8 815.7 793.7C820.9 793.6 828.2 791.2 834.0 790.7C839.2 790.3 844.5 789.7 848.9 790.7C852.7 791.6 855.9 793.5 858.9 795.7C862.0 797.9 864.9 801.1 867.2 804.0C869.3 806.6 870.6 808.7 872.2 812.0C874.4 816.5 876.7 822.7 878.4 829.1C880.5 837.1 881.7 846.8 883.2 856.4C884.9 867.2 886.4 878.4 887.9 890.8C889.6 905.3 891.0 922.9 892.7 938.2C894.3 952.6 895.3 965.7 897.7 980.0C900.2 995.4 904.7 1010.7 907.8 1027.4C911.3 1046.0 914.8 1066.6 917.3 1086.7C919.9 1107.4 921.1 1129.6 923.0 1150.0C924.8 1169.0 926.0 1191.1 928.5 1205.0C930.1 1213.7 931.6 1221.3 934.0 1226.0C935.5 1228.8 936.9 1231.3 939.0 1232.0C941.0 1232.7 944.3 1232.2 946.3 1230.3C949.8 1227.0 950.7 1216.2 952.5 1208.0C954.6 1198.3 956.0 1187.7 957.5 1176.0C959.3 1162.1 960.6 1145.0 962.3 1130.0C963.9 1115.7 965.5 1102.5 967.2 1088.0C969.0 1072.5 970.9 1054.8 973.0 1040.0C974.9 1027.1 976.3 1014.1 979.0 1004.0C981.0 996.3 984.1 990.9 986.3 984.0C988.5 976.9 989.9 968.8 992.2 961.9C994.3 955.6 996.5 949.1 999.4 944.1C1001.8 939.9 1004.4 936.1 1007.7 933.4C1010.8 930.9 1014.8 929.1 1018.3 928.1C1021.5 927.2 1024.5 927.3 1027.8 927.5C1031.3 927.7 1035.3 928.1 1038.5 929.3C1041.6 930.5 1044.3 932.4 1046.8 934.6C1049.4 936.9 1052.0 939.6 1053.9 942.9C1056.1 946.6 1057.2 951.4 1058.6 956.0C1060.1 961.0 1061.4 966.5 1062.5 972.0C1063.6 977.8 1064.1 983.2 1065.0 990.0C1066.1 998.7 1067.2 1009.3 1068.5 1020.0C1069.9 1032.4 1071.6 1046.7 1073.2 1060.0C1074.8 1073.3 1076.3 1086.8 1078.0 1100.0C1079.6 1112.8 1081.4 1125.2 1083.0 1138.0C1084.7 1151.2 1085.8 1166.4 1088.0 1178.0C1089.7 1187.1 1091.8 1195.0 1094.0 1202.0C1095.8 1207.6 1097.5 1216.5 1099.7 1217.0C1101.2 1217.3 1103.0 1214.0 1104.5 1212.0C1106.3 1209.7 1107.3 1205.3 1109.5 1204.0C1111.4 1202.9 1114.4 1204.9 1116.3 1203.7C1118.7 1202.2 1119.9 1197.5 1121.5 1194.0C1123.2 1190.3 1124.1 1186.0 1126.3 1182.0C1128.8 1177.5 1133.0 1174.2 1136.3 1168.7C1140.9 1160.9 1146.5 1147.0 1149.7 1138.7C1151.9 1133.0 1151.9 1129.0 1154.4 1124.0C1157.4 1117.9 1162.8 1111.2 1167.4 1105.4C1171.9 1099.9 1176.8 1095.5 1181.6 1090.0C1186.7 1084.1 1192.4 1075.1 1197.1 1071.1C1200.0 1068.6 1202.2 1067.6 1205.3 1066.3C1208.8 1064.8 1213.5 1064.4 1217.2 1062.8C1220.6 1061.3 1223.7 1058.3 1226.7 1057.4C1229.2 1056.6 1231.3 1056.6 1233.8 1056.8C1236.8 1057.0 1240.2 1057.8 1243.3 1059.2C1246.9 1060.8 1250.5 1063.4 1254.0 1066.3C1258.0 1069.6 1262.1 1073.9 1265.8 1078.2C1269.6 1082.6 1273.5 1087.4 1276.5 1092.4C1279.4 1097.3 1281.4 1102.6 1283.6 1107.8C1285.8 1113.1 1287.0 1118.1 1289.5 1124.0C1292.6 1131.3 1297.3 1141.1 1301.0 1148.0C1303.9 1153.4 1306.8 1156.5 1309.3 1162.0C1312.5 1169.2 1315.3 1178.7 1317.7 1188.0C1320.4 1198.3 1322.2 1209.0 1324.3 1221.0C1326.7 1235.3 1328.9 1251.4 1331.0 1268.0C1333.4 1286.8 1335.4 1311.1 1337.7 1328.0C1339.4 1340.4 1340.6 1351.4 1342.7 1360.0C1344.2 1366.0 1345.2 1371.6 1347.7 1375.0C1349.5 1377.5 1351.4 1379.0 1354.3 1380.0C1358.2 1381.4 1363.5 1380.6 1369.7 1380.5C1379.2 1380.4 1397.8 1380.8 1406.0 1378.5C1410.6 1377.2 1412.7 1375.4 1416.0 1373.0C1419.9 1370.2 1423.9 1364.2 1427.7 1362.5C1430.5 1361.2 1432.4 1361.7 1436.0 1361.5C1442.9 1361.1 1458.5 1363.3 1466.0 1361.5C1471.0 1360.3 1474.0 1358.3 1477.7 1355.7C1481.8 1352.9 1485.5 1348.2 1489.3 1345.0C1492.7 1342.2 1495.8 1338.8 1499.3 1337.5C1502.5 1336.4 1505.1 1337.1 1509.3 1337.0C1516.6 1336.9 1529.0 1337.6 1539.3 1337.5C1550.1 1337.4 1561.1 1336.7 1572.7 1336.5C1585.4 1336.2 1601.7 1336.6 1612.7 1336.0C1620.5 1335.6 1625.0 1334.7 1632.7 1334.0C1643.1 1333.0 1658.9 1331.0 1669.3 1330.5C1677.0 1330.1 1683.7 1329.8 1689.3 1330.5C1693.5 1331.0 1696.5 1332.6 1700.0 1333.2C1703.4 1333.8 1707.0 1332.9 1710.0 1334.1C1713.1 1335.3 1715.9 1338.0 1718.3 1340.7C1720.9 1343.7 1722.4 1348.2 1724.9 1351.5C1727.4 1354.8 1730.2 1358.2 1733.2 1360.6C1735.8 1362.7 1738.8 1363.7 1741.5 1365.6C1744.3 1367.6 1746.9 1370.7 1749.8 1372.2C1752.4 1373.5 1755.2 1374.4 1758.1 1374.4C1761.3 1374.4 1764.7 1372.1 1768.0 1371.7C1771.3 1371.3 1774.6 1371.4 1778.0 1372.2C1781.8 1373.1 1785.6 1375.5 1789.6 1377.2C1793.9 1379.1 1798.4 1381.2 1802.9 1383.0C1807.3 1384.8 1811.4 1386.8 1816.2 1388.0C1821.4 1389.3 1825.8 1389.5 1832.8 1390.0C1844.5 1390.8 1872.9 1390.7 1880.0 1390.8C1882.1 1390.8 1882.8 1390.9 1884.0 1390.9C1885.1 1390.9 1886.0 1390.8 1887.0 1390.8C1888.0 1390.8 1889.0 1390.8 1890.0 1390.8C1891.0 1390.8 1892.0 1391.0 1893.0 1391.0C1894.0 1391.0 1895.0 1391.0 1896.0 1391.0C1897.0 1391.0 1898.0 1391.3 1899.0 1391.3C1900.0 1391.3 1901.0 1391.1 1902.0 1391.1C1903.0 1391.1 1904.0 1391.4 1905.0 1391.4C1906.0 1391.4 1907.0 1391.4 1908.0 1391.4C1909.0 1391.4 1910.0 1391.5 1911.0 1391.5C1912.0 1391.5 1913.0 1391.3 1914.0 1391.2C1915.0 1391.0 1916.0 1390.6 1917.0 1390.6C1918.0 1390.6 1919.0 1391.3 1920.0 1391.5C1921.0 1391.7 1922.0 1391.7 1923.0 1391.7C1924.0 1391.7 1925.0 1391.7 1926.0 1391.6C1927.0 1391.5 1928.0 1391.1 1929.0 1391.1C1930.0 1391.1 1931.0 1391.5 1932.0 1391.4C1933.0 1391.3 1934.0 1390.6 1935.0 1390.6C1936.0 1390.6 1937.0 1391.5 1938.0 1391.6C1939.0 1391.7 1940.0 1391.3 1941.0 1391.2C1942.0 1391.0 1943.0 1390.9 1944.0 1390.7C1945.0 1390.6 1946.0 1390.1 1947.0 1390.3C1948.0 1390.5 1949.0 1391.5 1950.0 1391.8C1951.0 1392.1 1952.0 1392.3 1953.0 1392.1C1954.0 1391.9 1955.0 1390.3 1956.0 1390.3C1957.0 1390.3 1958.0 1391.7 1959.0 1391.8C1960.0 1391.9 1961.0 1391.1 1962.0 1390.9C1963.0 1390.7 1964.0 1390.4 1965.0 1390.4C1966.0 1390.4 1967.0 1390.5 1968.0 1390.7C1969.0 1390.9 1970.0 1391.6 1971.0 1391.8C1972.0 1392.0 1973.0 1392.3 1974.0 1392.1C1975.0 1391.8 1976.0 1390.2 1977.0 1390.1C1978.0 1390.0 1979.0 1391.5 1980.0 1391.5C1981.0 1391.5 1982.0 1390.0 1983.0 1390.0C1984.0 1390.0 1985.0 1391.7 1986.0 1391.8C1987.0 1391.9 1988.0 1390.7 1989.0 1390.8C1990.0 1390.9 1991.0 1392.0 1992.0 1392.3C1993.0 1392.6 1994.0 1392.8 1995.0 1392.6C1996.0 1392.4 1997.0 1391.3 1998.0 1391.3C1999.0 1391.3 2000.0 1392.8 2001.0 1392.7C2002.0 1392.6 2003.0 1391.2 2004.0 1390.7C2005.0 1390.3 2006.0 1389.9 2007.0 1390.0C2008.0 1390.1 2009.0 1391.6 2010.0 1391.6C2011.0 1391.6 2012.1 1389.8 2013.0 1389.8C2013.8 1389.8 2014.5 1390.8 2015.3 1391.3"/></defs>
<g stroke="#00f"><use href="#p5" stroke-width="3.40"/>
<use href="#p5" stroke-width="0.80" transform="translate(1.40 1.40)"/>
<use href="#p5" stroke-width="0.80" transform="translate(1.40 -1.40)"/>
<use href="#p5" stroke-width="0.80" transform="translate(-1.40 1.40)"/>
<use href="#p5" stroke-width="0.80" transform="translate(-1.40 -1.40)"/>
</g>
<defs><path id="p6" d="M871.3 668.8L873.1 672.4L874.9 676.1L876.7 679.7L878.4 683.4L879.8 687.1L881.1 691.0L882.3 694.9L883.3 698.8L884.2 702.7L885.0 706.7M887.9 730.4L888.4 734.4L888.9 738.4L889.4 742.5L890.0 746.5L890.5 750.5L890.9 754.5L891.4 758.5L891.9 762.6L892.3 766.6L892.8 770.6M895.4 795.9L895.9 800.0L896.4 804.0L896.9 808.0L897.5 812.0L898.1 816.0L898.6 820.0L899.3 824.0L899.9 828.0L900.6 832.0L901.3 836.0M905.6 860.7L906.2 864.7L906.7 868.7L907.3 872.7L907.8 876.8L908.4 880.8L909.0 884.8L909.6 888.8L910.3 892.8L910.9 896.8L911.6 900.8M915.3 925.8L915.8 929.8L916.2 933.8L916.7 937.9L917.1 941.9L917.5 945.9L917.9 950.0L918.3 954.0L918.7 958.0L919.0 962.0L919.3 966.1M921.8 991.3L922.3 995.3L922.9 999.3L923.4 1003.3L923.8 1007.3L924.3 1011.4L924.7 1015.4L925.1 1019.4L925.5 1023.4L925.9 1027.5L926.3 1031.5M928.8 1057.0L929.2 1061.0L929.6 1065.0L930.0 1069.1L930.4 1073.1L930.8 1077.1L931.2 1081.1L931.7 1085.2L932.1 1089.2L932.5 1093.2L933.0 1097.3M938.8 1123.5L941.2 1126.8L944.8 1128.3L948.7 1127.4L951.1 1124.2L952.2 1120.4L953.2 1116.4L954.1 1112.5L955.2 1108.6L956.2 1104.7L957.1 1100.7M960.4 1076.0L960.8 1072.0L961.2 1068.0L961.6 1064.0L962.0 1059.9L962.4 1055.9L962.8 1051.9L963.2 1047.8L963.6 1043.8L964.0 1039.8L964.4 1035.7M966.9 1010.5L967.3 1006.5L967.6 1002.5L967.9 998.4L968.2 994.4L968.5 990.3L968.8 986.3L969.2 982.3L969.5 978.2L969.9 974.2L970.3 970.2M972.7 944.9L973.2 940.9L973.6 936.9L974.0 932.9L974.5 928.8L975.0 924.8L975.4 920.8L976.0 916.8L976.5 912.8L977.1 908.8L977.7 904.8M981.8 880.1L982.5 876.1L983.1 872.1L983.8 868.2L984.5 864.2L985.3 860.2L986.0 856.2L986.7 852.2L987.4 848.2L988.1 844.2L988.7 840.2M994.8 816.4L996.2 812.6L997.7 808.8L999.1 805.0L1000.4 801.2L1001.7 797.4L1003.1 793.6L1004.6 789.8L1006.4 786.2L1008.8 782.9L1011.8 780.2M1029.9 773.6L1033.8 774.5L1037.2 776.8L1040.6 778.9L1044.4 780.2L1047.1 783.1L1048.7 786.9L1050.6 790.4L1053.3 793.4L1056.2 796.2L1058.6 799.5M1064.3 825.9L1065.1 829.9L1065.9 833.8L1066.6 837.8L1067.2 841.8L1067.8 845.8L1068.4 849.8L1069.0 853.8L1069.6 857.9L1070.1 861.9L1070.5 865.9M1072.6 890.9L1072.9 894.9L1073.3 898.9L1073.6 903.0L1074.0 907.0L1074.4 911.0L1074.8 915.1L1075.3 919.1L1075.9 923.1L1076.5 927.1L1077.0 931.1M1078.7 954.0L1079.0 958.0L1079.3 962.1L1079.6 966.1L1079.9 970.2L1080.3 974.2L1080.7 978.2L1081.2 982.2L1081.9 986.2L1082.7 990.2L1083.6 994.2M1087.3 1016.8L1087.8 1020.8L1088.2 1024.9L1088.6 1028.9L1089.1 1032.9L1089.5 1036.9L1089.9 1041.0L1090.3 1045.0L1090.7 1049.0L1091.1 1053.1L1091.5 1057.1M1094.0 1079.9L1094.4 1084.0L1094.9 1088.0L1095.4 1092.0L1096.0 1096.0L1096.5 1100.0L1096.9 1104.0L1097.4 1108.1L1097.8 1112.1L1098.4 1116.1L1099.2 1120.1M1116.4 1127.6L1120.3 1127.4L1122.6 1124.1L1124.2 1120.4L1125.7 1116.7L1127.3 1112.9L1128.8 1109.1L1130.7 1105.6L1133.5 1102.7L1136.5 1099.9L1138.9 1096.7M1148.4 1075.8L1149.9 1072.0L1151.3 1068.2L1152.7 1064.4L1154.0 1060.6L1155.4 1056.8L1156.7 1053.0L1158.0 1049.1L1159.4 1045.3L1160.9 1041.5L1162.4 1037.8M1173.3 1015.3L1175.5 1011.9L1177.9 1008.6L1180.3 1005.4L1182.8 1002.2L1185.3 999.0L1187.9 995.9L1190.5 992.8L1193.2 989.8L1195.9 986.8L1198.8 983.9M1219.6 971.5L1223.3 969.9L1227.0 968.2L1230.7 966.6L1234.6 965.5L1238.6 965.0L1242.6 965.5L1246.5 966.6L1250.3 968.2L1253.9 970.0L1257.3 972.2M1272.9 990.5L1275.0 993.9L1277.1 997.4L1279.1 1000.9L1281.1 1004.4L1283.1 1008.0L1285.0 1011.6L1286.8 1015.2L1288.6 1018.8L1290.4 1022.5L1292.0 1026.2M1299.0 1049.7L1300.2 1053.6L1301.5 1057.4L1302.8 1061.2L1304.2 1065.1L1305.5 1068.9L1306.8 1072.7L1308.1 1076.6L1309.4 1080.4L1310.6 1084.2L1311.8 1088.1M1318.0 1112.5L1318.8 1116.6L1319.6 1120.8L1320.5 1124.9L1321.6 1128.9L1322.8 1133.0L1324.0 1137.0"/></defs>
<g stroke="#00f"><use href="#p6" stroke-width="3.40"/>
<use href="#p6" stroke-width="0.80" transform="translate(1.40 1.40)"/>
<use href="#p6" stroke-width="0.80" transform="translate(1.40 -1.40)"/>
<use href="#p6" stroke-width="0.80" transform="translate(-1.40 1.40)"/>
<use href="#p6" stroke-width="0.80" transform="translate(-1.40 -1.40)"/>
</g>
<defs><path id="p7" d="M237.3 1306.3C237.4 1306.3 237.5 1306.3 237.6 1306.4C237.9 1306.7 237.7 1309.8 237.8 1309.8C237.9 1309.8 238.0 1309.0 238.1 1308.9C238.2 1308.9 238.2 1308.8 238.3 1308.9C238.6 1309.2 238.5 1311.6 238.6 1313.1C238.7 1314.7 238.6 1318.2 238.8 1318.3C238.9 1318.3 238.9 1318.0 239.0 1318.0C239.1 1318.0 239.2 1318.9 239.3 1318.9C239.5 1318.9 239.4 1315.2 239.5 1315.2C239.6 1315.2 239.7 1319.0 239.8 1319.0C239.9 1319.0 239.9 1317.7 240.0 1317.7C240.1 1317.7 240.3 1318.0 240.4 1318.1C240.5 1318.2 240.5 1318.3 240.6 1318.4C240.7 1318.7 240.7 1319.3 240.8 1320.0C240.9 1321.5 240.7 1325.9 241.1 1326.7C241.2 1326.9 241.4 1326.9 241.5 1327.0C241.6 1327.2 241.6 1327.4 241.7 1327.6C241.8 1327.8 241.9 1328.3 242.0 1328.3C242.2 1328.3 242.2 1325.1 242.3 1325.1C242.4 1325.1 242.5 1326.1 242.6 1326.8C242.7 1327.7 242.8 1329.0 242.9 1329.9C243.0 1330.6 243.2 1331.3 243.3 1331.9C243.4 1332.5 243.4 1333.0 243.5 1333.5C243.6 1333.9 243.7 1334.5 243.8 1334.5C244.0 1334.5 244.1 1330.2 244.2 1330.2C244.3 1330.2 244.3 1333.4 244.5 1334.5C244.6 1335.2 244.8 1336.1 245.0 1336.1C245.1 1336.1 245.2 1335.9 245.3 1335.7C245.4 1335.4 245.6 1334.7 245.7 1334.7C245.9 1334.7 245.8 1337.3 246.0 1337.3C246.1 1337.3 246.4 1335.8 246.5 1335.8C246.8 1335.8 246.8 1341.4 247.2 1342.2C247.3 1342.4 247.5 1342.6 247.6 1342.6C247.8 1342.6 247.9 1341.9 248.1 1341.6C248.3 1341.4 248.5 1341.0 248.6 1341.0C248.9 1341.1 248.8 1345.3 249.1 1345.3C249.2 1345.3 249.5 1344.1 249.6 1344.1C249.8 1344.1 249.8 1345.9 250.1 1346.4C250.3 1346.7 250.6 1347.0 250.9 1346.9C251.3 1346.8 251.7 1345.8 252.0 1345.3C252.3 1344.9 252.5 1344.4 252.8 1344.3C253.0 1344.3 253.2 1344.7 253.4 1344.6C253.7 1344.5 253.7 1343.5 253.9 1342.9C254.1 1342.2 254.2 1341.1 254.5 1340.8C254.7 1340.7 254.9 1340.6 255.1 1340.7C255.4 1340.9 255.5 1342.4 255.7 1342.4C256.0 1342.4 256.1 1338.6 256.7 1338.2C257.0 1338.0 257.5 1338.1 257.8 1338.3C258.3 1338.7 258.3 1341.0 258.6 1341.1C258.8 1341.1 259.1 1340.0 259.4 1340.0C259.8 1340.0 260.2 1341.4 260.6 1341.6C260.9 1341.8 261.2 1341.7 261.5 1341.7C261.8 1341.7 262.0 1341.4 262.2 1341.5C262.6 1341.7 263.0 1343.8 263.3 1343.8C263.7 1343.8 263.7 1340.8 264.2 1340.4C264.4 1340.2 264.8 1340.5 265.0 1340.4C265.3 1340.2 265.3 1339.1 265.5 1339.1C265.7 1339.1 265.8 1339.8 266.0 1339.8C266.3 1339.8 266.4 1338.0 266.7 1337.5C266.9 1337.2 267.0 1336.9 267.2 1336.9C267.3 1336.9 267.5 1337.2 267.6 1337.2C267.8 1337.1 267.8 1335.5 268.1 1335.2C268.2 1335.1 268.4 1335.1 268.5 1335.1C268.7 1335.0 268.9 1335.1 269.1 1334.9C269.4 1334.5 269.3 1333.1 269.5 1332.4C269.6 1331.9 269.8 1331.5 270.0 1331.3C270.1 1331.1 270.3 1331.1 270.4 1331.0C270.6 1330.9 270.8 1331.0 270.9 1330.9C271.1 1330.7 271.2 1330.2 271.3 1329.8C271.5 1329.3 271.6 1328.5 271.8 1328.1C271.9 1327.8 272.1 1327.7 272.2 1327.5C272.3 1327.2 272.4 1326.8 272.5 1326.6C272.6 1326.4 272.8 1326.3 272.9 1326.1C273.1 1325.8 273.3 1325.1 273.5 1324.8C273.6 1324.6 273.7 1324.6 273.8 1324.3C274.6 1322.8 277.6 1314.1 280.0 1310.3C282.0 1307.2 284.2 1304.2 286.7 1302.7C288.7 1301.5 291.2 1300.7 293.3 1301.0C295.6 1301.4 297.9 1303.4 300.0 1305.3C302.4 1307.5 304.2 1310.7 306.7 1313.7C309.7 1317.3 313.2 1321.9 316.7 1325.3C319.9 1328.5 323.5 1330.4 326.7 1333.7C330.3 1337.5 333.3 1342.9 336.7 1347.0C339.9 1350.9 343.2 1354.6 346.7 1357.7C349.9 1360.6 353.3 1363.2 356.7 1365.3C359.9 1367.3 363.0 1369.1 366.7 1370.3C370.7 1371.6 375.6 1372.7 380.0 1372.7C384.4 1372.7 389.2 1371.5 393.3 1370.3C396.9 1369.2 400.5 1368.0 403.3 1366.0C406.0 1364.1 408.1 1361.6 410.0 1358.7C412.1 1355.4 413.7 1351.2 415.0 1347.0C416.5 1342.4 417.3 1337.7 418.3 1332.0C419.6 1324.4 420.7 1315.1 421.7 1305.3C423.0 1293.3 424.0 1279.8 425.0 1265.3C426.2 1248.1 427.2 1228.3 428.3 1208.7C429.5 1187.4 430.7 1162.6 431.7 1142.0C432.6 1124.1 433.3 1110.6 434.0 1092.0C434.9 1068.6 435.8 1040.7 436.7 1012.7C437.8 981.3 438.8 942.7 440.0 912.7C441.0 888.2 442.1 870.5 443.3 846.0C444.8 816.0 446.4 776.0 448.3 746.0C449.8 721.5 451.8 698.6 453.3 679.3C454.5 664.5 455.6 652.0 456.5 640.0C457.3 629.9 457.5 620.9 458.5 612.0C459.4 603.9 460.4 596.4 461.8 589.0C463.2 582.1 464.9 574.8 466.8 569.1C468.3 564.6 469.8 560.9 471.8 557.5C473.7 554.4 475.8 551.3 478.4 549.2C480.8 547.2 483.6 546.0 486.7 545.0C490.2 543.9 494.4 543.4 498.3 543.4C502.2 543.4 505.8 544.1 510.0 545.0C515.1 546.1 521.0 548.0 526.5 550.0C532.1 552.1 537.8 554.3 543.2 557.5C549.0 560.9 555.6 565.7 560.0 569.9C563.5 573.2 565.5 576.7 568.3 579.8C571.0 582.8 573.3 586.0 576.6 588.1C579.9 590.2 584.3 591.8 588.2 592.3C592.0 592.8 595.9 590.4 599.8 591.1C604.2 591.8 608.6 594.6 613.1 597.3C618.5 600.5 624.1 605.9 629.7 609.7C635.1 613.4 640.7 616.5 646.3 619.7C651.8 622.9 658.0 625.5 662.9 628.8C667.3 631.7 671.2 634.5 674.6 638.0C677.9 641.4 680.2 645.6 682.9 649.6C685.7 653.8 688.5 659.1 691.2 662.9C693.4 666.1 696.0 667.9 697.8 671.2C699.9 675.0 701.4 679.4 702.8 684.4C704.6 690.7 705.6 698.5 706.9 706.0C708.3 714.0 709.7 722.7 711.1 730.9C712.5 738.8 713.9 748.1 715.2 754.2C716.1 758.2 716.5 761.4 717.7 764.1C718.6 766.1 719.5 768.6 721.0 769.1C722.4 769.6 724.3 768.5 726.0 767.5C728.2 766.1 730.9 763.7 732.7 760.8C735.0 757.3 736.2 752.5 737.7 747.5C739.6 741.2 740.7 732.3 742.6 726.0C744.1 721.0 745.4 716.3 747.6 712.7C749.5 709.6 751.6 707.2 754.3 705.2C757.3 703.0 761.7 700.2 765.0 700.2C767.7 700.2 770.5 701.5 772.5 703.5C774.9 705.9 775.7 710.1 777.5 714.3C780.0 719.9 782.9 728.0 785.8 734.3C788.5 740.1 791.5 745.8 794.1 750.9C796.4 755.3 798.3 760.6 800.7 763.3C802.3 765.0 803.6 765.9 805.7 766.6C808.4 767.5 811.9 767.1 815.7 767.1C820.9 767.1 828.2 766.3 834.0 766.1C839.2 766.0 844.5 765.1 848.9 766.1C852.7 766.9 855.9 768.7 858.9 770.8C862.0 773.0 864.8 775.9 867.2 779.1C869.8 782.5 871.9 786.5 873.8 790.7C875.8 795.3 877.2 799.6 878.8 805.6C881.1 814.2 883.7 827.0 885.6 837.4C887.5 847.4 888.9 857.1 890.3 867.0C891.7 876.9 892.8 886.4 893.9 896.7C895.1 908.0 896.0 919.5 897.4 932.2C899.0 947.0 900.7 965.3 903.0 980.0C905.0 992.8 908.1 1002.8 910.2 1015.6C912.6 1030.2 914.4 1049.1 916.1 1063.0C917.4 1073.8 918.5 1080.3 919.7 1092.0C921.5 1109.7 922.9 1138.1 924.7 1158.7C926.3 1176.6 927.6 1195.2 929.7 1208.7C931.2 1218.0 932.5 1227.9 934.7 1232.0C935.7 1233.8 936.8 1235.4 938.0 1235.3C939.9 1235.1 942.7 1229.4 944.7 1225.3C947.3 1219.9 949.5 1212.8 951.3 1205.3C953.6 1196.1 954.9 1185.4 956.4 1174.0C958.2 1160.2 959.5 1143.1 961.1 1128.2C962.6 1114.0 964.2 1101.0 965.9 1086.7C967.7 1071.4 969.7 1054.0 971.8 1039.3C973.6 1026.6 975.7 1013.8 977.7 1003.7C979.2 996.1 980.5 991.3 982.2 984.0C984.4 974.9 987.2 962.6 989.9 953.6C992.2 946.1 994.2 939.4 997.0 933.4C999.4 928.1 1001.9 923.1 1005.3 919.2C1008.4 915.7 1012.0 912.6 1016.0 910.9C1019.9 909.2 1024.9 909.0 1029.0 909.1C1032.7 909.2 1036.4 909.3 1039.7 910.9C1043.2 912.6 1046.5 916.0 1049.1 919.2C1051.6 922.4 1053.4 925.8 1055.1 929.9C1057.2 935.0 1058.4 941.6 1059.8 947.7C1061.2 954.2 1062.4 961.5 1063.4 967.8C1064.3 973.5 1064.9 977.7 1065.7 984.0C1066.8 992.8 1067.8 1004.4 1069.0 1015.6C1070.4 1028.5 1072.1 1043.2 1073.7 1057.0C1075.3 1070.8 1076.9 1085.2 1078.5 1098.5C1080.0 1110.8 1081.7 1121.9 1083.2 1134.1C1084.8 1147.0 1086.0 1162.8 1088.0 1174.0C1089.5 1182.3 1091.2 1188.9 1093.0 1195.3C1094.6 1200.8 1095.7 1209.5 1098.0 1210.3C1099.4 1210.8 1101.5 1208.5 1103.0 1207.0C1104.9 1205.1 1105.8 1200.6 1108.0 1199.3C1109.9 1198.2 1112.9 1199.9 1114.7 1198.7C1117.0 1197.1 1118.2 1192.5 1119.7 1188.7C1121.6 1183.9 1122.4 1176.4 1124.7 1172.0C1126.5 1168.5 1129.2 1166.1 1131.3 1163.7C1133.0 1161.8 1135.0 1161.0 1136.3 1158.7C1138.2 1155.4 1138.3 1149.8 1140.0 1144.8C1142.1 1138.5 1145.7 1129.9 1148.4 1124.0C1150.5 1119.5 1152.0 1116.0 1154.4 1112.5C1156.8 1109.1 1159.3 1106.7 1162.7 1103.1C1167.7 1097.8 1175.9 1090.5 1181.6 1084.1C1186.9 1078.2 1191.4 1071.4 1195.9 1066.3C1199.6 1062.2 1202.5 1058.8 1206.5 1055.7C1210.7 1052.4 1216.4 1049.3 1220.8 1047.4C1224.2 1045.9 1226.9 1044.5 1230.2 1044.4C1233.6 1044.2 1237.5 1045.3 1240.9 1046.8C1244.6 1048.5 1248.0 1051.4 1251.6 1054.5C1255.9 1058.1 1260.6 1062.9 1264.6 1067.5C1268.5 1072.0 1272.3 1076.8 1275.3 1081.7C1278.2 1086.3 1280.2 1091.2 1282.4 1096.0C1284.5 1100.7 1286.3 1106.1 1288.3 1110.2C1289.9 1113.4 1291.3 1115.0 1293.0 1118.7C1295.9 1125.0 1299.4 1138.1 1303.0 1145.3C1305.6 1150.7 1308.8 1153.3 1311.3 1158.7C1314.6 1165.9 1317.3 1175.9 1319.7 1185.3C1322.4 1195.7 1324.2 1206.6 1326.3 1218.7C1328.7 1232.9 1330.9 1248.8 1333.0 1265.3C1335.4 1284.0 1337.5 1308.2 1339.7 1325.3C1341.4 1338.1 1342.6 1349.6 1344.7 1358.7C1346.2 1365.3 1347.2 1371.4 1349.7 1375.3C1351.5 1378.1 1353.5 1380.1 1356.3 1381.3C1359.8 1382.8 1364.1 1382.0 1369.7 1382.0C1378.8 1382.0 1397.8 1382.4 1406.0 1380.3C1410.5 1379.1 1412.7 1377.5 1416.0 1375.3C1419.9 1372.7 1423.9 1367.0 1427.7 1365.3C1430.5 1364.1 1432.4 1364.5 1436.0 1364.3C1442.9 1363.9 1458.5 1366.0 1466.0 1364.3C1471.0 1363.2 1474.0 1361.1 1477.7 1358.7C1481.8 1356.0 1485.5 1351.7 1489.3 1348.7C1492.7 1346.0 1495.8 1342.7 1499.3 1341.3C1502.5 1340.1 1505.1 1340.5 1509.3 1340.3C1516.6 1339.9 1529.0 1340.5 1539.3 1340.3C1550.1 1340.0 1561.1 1339.2 1572.7 1338.7C1585.4 1338.1 1601.7 1338.4 1612.7 1337.0C1620.6 1336.0 1625.0 1333.8 1632.7 1332.7C1643.0 1331.3 1658.9 1330.4 1669.3 1330.3C1677.0 1330.2 1683.7 1330.2 1689.3 1331.3C1693.5 1332.1 1696.5 1334.0 1700.0 1334.9C1703.4 1335.7 1707.1 1335.5 1710.0 1336.6C1712.5 1337.6 1714.3 1338.9 1716.6 1340.7C1719.7 1343.0 1722.7 1347.2 1726.6 1349.8C1730.9 1352.6 1736.6 1353.8 1741.5 1356.5C1746.6 1359.3 1751.2 1364.5 1756.4 1366.4C1761.2 1368.1 1766.5 1366.9 1771.4 1368.1C1776.5 1369.3 1781.3 1371.5 1786.3 1373.9C1791.8 1376.6 1797.3 1381.0 1802.9 1383.8C1808.3 1386.5 1813.0 1389.1 1819.5 1390.5C1827.9 1392.3 1839.4 1391.3 1849.4 1391.6C1859.5 1391.9 1874.6 1392.3 1880.0 1392.3C1882.0 1392.3 1882.8 1392.2 1884.0 1392.2C1885.1 1392.2 1886.0 1392.5 1887.0 1392.5C1888.0 1392.5 1889.0 1392.4 1890.0 1392.4C1891.0 1392.4 1892.0 1392.6 1893.0 1392.7C1894.0 1392.8 1895.0 1392.9 1896.0 1392.8C1897.0 1392.7 1898.0 1392.4 1899.0 1392.3C1900.0 1392.2 1901.0 1392.1 1902.0 1392.3C1903.0 1392.5 1904.0 1393.3 1905.0 1393.4C1906.0 1393.5 1907.0 1392.8 1908.0 1392.7C1909.0 1392.6 1910.0 1392.5 1911.0 1392.7C1912.0 1392.9 1913.0 1393.8 1914.0 1393.9C1915.0 1394.0 1916.0 1393.2 1917.0 1393.2C1918.0 1393.2 1919.0 1393.9 1920.0 1393.9C1921.0 1393.9 1922.0 1393.4 1923.0 1393.4C1924.0 1393.4 1925.0 1393.8 1926.0 1393.7C1927.0 1393.6 1928.0 1392.9 1929.0 1392.9C1930.0 1392.9 1931.0 1393.6 1932.0 1393.9C1933.0 1394.2 1934.0 1394.5 1935.0 1394.5C1936.0 1394.5 1937.0 1393.8 1938.0 1393.8C1939.0 1393.8 1940.0 1394.3 1941.0 1394.4C1942.0 1394.5 1943.0 1394.5 1944.0 1394.3C1945.0 1394.1 1946.0 1392.9 1947.0 1393.0C1948.0 1393.1 1949.0 1394.5 1950.0 1394.7C1951.0 1394.9 1952.0 1394.5 1953.0 1394.4C1954.0 1394.2 1955.0 1394.0 1956.0 1393.8C1957.0 1393.6 1958.0 1392.9 1959.0 1393.1C1960.1 1393.3 1961.0 1395.2 1962.0 1395.4C1963.0 1395.6 1964.0 1394.4 1965.0 1394.4C1966.0 1394.4 1967.0 1395.0 1968.0 1395.2C1969.0 1395.4 1970.0 1395.8 1971.0 1395.8C1972.0 1395.8 1973.0 1395.4 1974.0 1395.4C1975.0 1395.4 1976.0 1396.2 1977.0 1396.1C1978.0 1396.0 1979.0 1394.6 1980.0 1394.6C1981.0 1394.6 1982.0 1395.9 1983.0 1395.9C1984.0 1395.9 1985.0 1394.8 1986.0 1394.9C1987.0 1395.0 1988.0 1396.3 1989.0 1396.6C1990.0 1396.8 1991.1 1396.9 1992.0 1396.5C1993.1 1396.1 1993.9 1394.3 1995.0 1393.9C1995.9 1393.6 1997.0 1393.9 1998.0 1394.0C1999.0 1394.1 2000.1 1394.0 2001.0 1394.4C2002.1 1394.9 2003.0 1397.1 2004.0 1397.2C2005.0 1397.3 2006.0 1395.4 2007.0 1395.3C2008.0 1395.2 2009.0 1396.2 2010.0 1396.2C2011.0 1396.2 2012.1 1395.0 2013.0 1395.0C2013.8 1395.0 2014.5 1395.5 2015.3 1395.8"/></defs>
<g stroke="#f00"><use href="#p7" stroke-width="3.40"/>
<use href="#p7" stroke-width="0.80" transform="translate(1.40 1.40)"/>
<use href="#p7" stroke-width="0.80" transform="translate(1.40 -1.40)"/>
<use href="#p7" stroke-width="0.80" transform="translate(-1.40 1.40)"/>
<use href="#p7" stroke-width="0.80" transform="translate(-1.40 -1.40)"/>
</g>
<defs><path id="p8" d="M871.9 661.3L874.0 664.8L876.2 668.2L878.2 671.7L880.0 675.3L881.3 679.2L882.2 683.1L883.0 687.1L883.7 691.0L884.4 695.0L885.1 699.0M889.7 723.3L890.3 727.3L890.8 731.3L891.3 735.3L891.8 739.4L892.2 743.4L892.7 747.4L893.1 751.4L893.5 755.5L893.9 759.5L894.4 763.5M896.8 787.9L897.2 791.9L897.6 796.0L898.0 800.0L898.4 804.0L898.9 808.0L899.3 812.1L899.8 816.1L900.3 820.1L900.8 824.1L901.4 828.1M905.9 852.5L906.5 856.5L907.1 860.5L907.6 864.6L908.2 868.6L908.7 872.6L909.3 876.6L909.9 880.6L910.5 884.6L911.1 888.6L911.7 892.6M915.9 919.0L916.4 923.0L916.9 927.0L917.4 931.0L917.9 935.1L918.3 939.1L918.7 943.1L919.1 947.1L919.5 951.2L919.9 955.2L920.3 959.2M922.4 983.4L922.8 987.4L923.3 991.4L923.9 995.4L924.4 999.4L924.9 1003.4L925.4 1007.5L925.8 1011.5L926.2 1015.5L926.6 1019.6L927.0 1023.6M929.5 1048.7L929.9 1052.8L930.3 1056.8L930.7 1060.8L931.1 1064.8L931.5 1068.9L931.9 1072.9L932.3 1076.9L932.7 1081.0L933.1 1085.0L933.5 1089.0M935.9 1112.8L936.4 1116.8L937.0 1120.8L938.1 1124.7L939.4 1128.5L942.1 1129.6L943.9 1126.0L945.6 1122.3L947.5 1118.8L949.3 1115.1L951.1 1111.5M958.6 1085.7L959.1 1081.7L959.6 1077.6L960.0 1073.6L960.5 1069.6L960.9 1065.6L961.4 1061.5L961.8 1057.5L962.1 1053.5L962.5 1049.4L962.9 1045.4M965.4 1020.6L965.8 1016.6L966.2 1012.5L966.6 1008.5L966.9 1004.5L967.3 1000.4L967.6 996.4L967.8 992.3L968.1 988.3L968.5 984.3L968.9 980.2M971.7 953.3L972.1 949.3L972.6 945.3L973.1 941.2L973.5 937.2L974.0 933.2L974.5 929.2L975.1 925.2L975.6 921.1L976.2 917.1L976.8 913.1M980.5 891.0L981.2 887.0L981.9 883.0L982.6 879.0L983.3 875.1L984.0 871.1L984.7 867.1L985.4 863.1L986.1 859.1L986.9 855.1L987.6 851.1M992.2 826.7L993.3 822.8L994.6 819.0L996.0 815.2L997.5 811.4L999.0 807.6L1000.5 803.9L1002.0 800.1L1003.5 796.4L1005.2 792.7L1007.0 789.0M1022.5 771.9L1026.4 770.8L1030.4 770.7L1034.3 771.6L1037.6 774.0L1041.1 776.0L1044.9 777.4L1047.9 780.0L1050.4 783.2L1052.5 786.7L1054.2 790.4M1060.4 811.3L1061.4 815.2L1062.4 819.2L1063.3 823.1L1064.2 827.1L1065.0 831.0L1065.7 835.0L1066.3 839.0L1066.9 843.0L1067.5 847.0L1068.0 851.0M1070.5 875.3L1070.9 879.3L1071.3 883.4L1071.6 887.4L1072.0 891.4L1072.3 895.5L1072.7 899.5L1073.1 903.5L1073.4 907.6L1073.8 911.6L1074.2 915.6M1077.0 941.7L1077.4 945.7L1077.8 949.8L1078.2 953.8L1078.5 957.8L1078.9 961.9L1079.3 965.9L1079.7 969.9L1080.1 973.9L1080.6 978.0L1081.2 982.0M1085.9 1005.7L1086.5 1009.7L1087.0 1013.7L1087.4 1017.7L1087.9 1021.7L1088.3 1025.8L1088.7 1029.8L1089.2 1033.8L1089.6 1037.9L1090.0 1041.9L1090.4 1045.9M1092.8 1070.0L1093.3 1074.0L1093.7 1078.0L1094.2 1082.0L1094.7 1086.0L1095.2 1090.1L1095.7 1094.1L1096.2 1098.1L1096.7 1102.1L1097.2 1106.1L1097.6 1110.2M1108.1 1128.2L1111.6 1126.2L1115.0 1124.1L1119.0 1123.9L1121.5 1120.9L1122.5 1117.0L1123.4 1113.0L1124.5 1109.1L1125.8 1105.3L1127.3 1101.5L1129.2 1097.9M1143.1 1078.2L1144.8 1074.5L1146.3 1070.7L1147.6 1066.9L1148.9 1063.1L1150.3 1059.3L1151.8 1055.5L1153.2 1051.7L1154.7 1048.0L1156.4 1044.3L1158.3 1040.7M1172.2 1020.7L1174.7 1017.5L1177.3 1014.4L1179.9 1011.3L1182.5 1008.2L1185.1 1005.1L1187.6 1001.9L1190.2 998.8L1192.7 995.6L1195.2 992.4L1197.7 989.2M1213.6 970.9L1216.9 968.6L1220.4 966.6L1224.1 964.8L1227.9 963.4L1231.8 962.5L1235.8 962.0L1239.9 962.2L1243.8 963.2L1247.5 964.7L1251.0 966.9M1267.6 987.5L1269.8 990.9L1271.9 994.3L1274.1 997.8L1276.2 1001.2L1278.4 1004.6L1280.8 1007.9L1283.1 1011.2L1285.5 1014.5L1287.8 1017.8L1290.0 1021.2M1298.4 1045.0L1299.7 1048.8L1301.1 1052.7L1302.4 1056.5L1303.8 1060.3L1305.2 1064.1L1306.7 1067.8L1308.3 1071.6L1310.0 1075.2L1311.6 1079.0L1313.1 1082.7M1320.3 1106.0L1321.3 1110.1L1322.1 1114.2L1322.9 1118.3L1323.7 1122.5L1324.2 1126.6L1324.6 1130.8L1325.0 1135.0"/></defs>
<g stroke="#f00"><use href="#p8" stroke-width="3.40"/>
<use href="#p8" stroke-width="0.80" transform="translate(1.40 1.40)"/>
<use href="#p8" stroke-width="0.80" transform="translate(1.40 -1.40)"/>
<use href="#p8" stroke-width="0.80" transform="translate(-1.40 1.40)"/>
<use href="#p8" stroke-width="0.80" transform="translate(-1.40 -1.40)"/>
</g>
<defs><path id="p9" d="M236.7 1199.9C236.7 1200.7 236.8 1201.6 236.8 1202.3C236.8 1202.8 236.8 1203.1 236.8 1203.6C236.8 1204.3 236.9 1206.3 236.9 1206.3C236.9 1206.3 236.9 1205.2 236.9 1205.2C236.9 1205.2 237.0 1207.8 237.0 1207.8C237.0 1207.8 237.0 1200.3 237.0 1200.3C237.0 1200.3 237.0 1203.9 237.0 1205.7C237.0 1207.4 237.0 1210.9 237.0 1210.9C237.0 1210.9 237.1 1209.1 237.1 1209.1C237.1 1209.1 237.1 1212.2 237.1 1212.2C237.1 1212.2 237.1 1206.7 237.1 1206.7C237.1 1206.7 237.2 1210.6 237.2 1210.6C237.2 1210.6 237.2 1209.6 237.2 1209.6C237.2 1209.6 237.2 1212.5 237.3 1213.3C237.3 1213.7 237.4 1214.3 237.4 1214.3C237.5 1214.3 237.4 1211.0 237.5 1211.0C237.5 1211.0 237.6 1212.9 237.7 1213.7C237.7 1214.3 237.8 1214.6 237.8 1215.3C237.9 1216.6 237.7 1220.9 238.0 1221.0C238.1 1221.0 238.2 1220.9 238.3 1220.7C238.6 1220.2 238.6 1217.1 238.7 1217.1C238.9 1217.1 239.1 1222.9 239.3 1222.9C239.4 1222.9 239.6 1219.0 239.7 1219.0C239.9 1219.0 240.0 1222.9 240.2 1222.9C240.4 1222.9 240.5 1220.8 240.9 1220.5C241.1 1220.3 241.5 1220.2 241.7 1220.4C242.3 1220.9 242.1 1226.7 242.4 1226.7C242.6 1226.7 242.7 1223.2 243.2 1223.0C243.5 1222.9 244.0 1223.2 244.3 1223.6C244.8 1224.4 244.7 1228.2 245.0 1228.2C245.2 1228.2 245.5 1227.3 245.7 1226.6C246.0 1225.5 246.0 1222.2 246.1 1222.2C246.2 1222.2 246.2 1225.0 246.3 1225.0C246.4 1225.0 246.3 1222.1 246.5 1221.7C246.6 1221.6 246.6 1221.6 246.7 1221.5C246.9 1221.1 246.9 1218.1 247.0 1218.1C247.1 1218.1 247.2 1220.8 247.3 1220.8C247.4 1220.8 247.4 1218.8 247.7 1218.6C247.8 1218.5 248.1 1218.9 248.2 1218.8C248.4 1218.7 248.4 1218.2 248.5 1217.7C248.7 1216.9 248.7 1214.8 249.0 1214.2C249.1 1213.9 249.3 1213.9 249.4 1213.7C249.6 1213.3 249.7 1212.4 249.9 1211.9C250.0 1211.6 250.1 1211.5 250.2 1211.2C250.4 1210.8 250.5 1210.0 250.7 1209.8C250.8 1209.7 251.0 1209.8 251.1 1209.8C251.2 1209.8 251.3 1210.0 251.4 1209.9C251.6 1209.7 251.6 1207.3 251.7 1207.3C251.8 1207.3 251.9 1208.2 252.0 1208.2C252.1 1208.2 252.2 1206.9 252.3 1206.4C252.4 1206.0 252.5 1205.5 252.6 1205.3C252.7 1205.2 252.7 1205.3 252.8 1205.2C252.9 1205.0 252.9 1204.3 253.0 1203.8C253.1 1203.4 253.2 1202.9 253.3 1202.5C253.3 1202.3 253.3 1202.1 253.4 1201.9C253.5 1201.6 253.6 1201.2 253.7 1200.9C253.8 1200.5 253.8 1200.4 253.9 1199.8C254.3 1197.7 255.8 1191.4 256.7 1185.3C258.3 1174.7 260.3 1157.0 261.7 1142.0C263.2 1125.9 264.0 1110.6 265.0 1092.0C266.3 1068.6 267.1 1042.6 268.3 1012.7C269.8 974.0 271.8 928.3 273.3 879.3C275.2 819.4 277.1 728.2 278.3 679.3C279.0 650.9 279.4 637.0 280.0 612.0C280.8 580.7 281.8 539.2 282.5 506.0C283.1 476.6 283.5 450.2 284.1 423.0C284.6 396.6 285.2 368.0 285.8 345.0C286.3 326.7 287.0 312.3 287.5 295.8C288.0 279.3 288.1 262.6 288.6 246.0C289.1 229.4 289.6 212.0 290.3 196.2C290.9 181.7 291.6 167.2 292.5 154.7C293.2 144.4 293.9 134.4 294.9 126.5C295.6 120.7 296.5 116.3 297.4 111.5C298.2 107.2 298.6 102.1 299.9 99.1C300.8 97.1 301.7 95.6 303.2 94.6C304.7 93.5 307.2 92.8 309.1 93.0C311.1 93.2 312.6 94.7 314.9 95.8C318.1 97.3 322.7 99.0 326.5 101.3C330.5 103.7 334.1 107.0 338.1 109.9C342.4 112.9 346.8 115.9 351.4 119.0C356.2 122.3 361.5 125.7 366.3 129.0C370.9 132.1 375.0 134.7 379.6 138.1C384.9 142.0 391.2 147.4 396.2 151.4C400.4 154.7 404.9 157.5 407.8 160.5C410.0 162.8 410.5 165.2 412.8 167.2C415.7 169.7 421.2 170.9 424.4 173.8C427.6 176.7 429.0 182.2 431.9 184.6C434.2 186.5 436.9 186.4 439.4 187.9C442.2 189.6 445.2 192.1 447.7 194.6C450.2 197.1 451.7 200.7 454.3 202.9C456.7 205.0 459.5 205.6 462.6 207.8C467.3 211.2 472.7 216.4 479.2 222.0C488.4 229.9 501.3 241.4 512.4 251.0C523.4 260.5 534.6 269.7 545.6 279.2C556.7 288.8 567.7 298.7 578.8 308.3C589.9 317.8 602.6 329.0 612.1 336.5C618.9 341.9 623.0 344.1 630.0 349.8C640.8 358.5 655.8 372.5 669.8 384.8C685.4 398.5 703.0 413.7 719.6 428.0C736.2 442.2 752.8 456.1 769.4 470.3C786.0 484.6 804.4 500.2 819.2 513.5C831.5 524.5 841.4 533.8 852.4 544.2C863.5 554.7 875.7 566.8 885.6 576.2C893.4 583.6 898.8 588.5 906.9 596.0C917.7 606.0 933.6 620.9 944.8 630.8C953.5 638.5 959.9 643.3 968.5 651.0C979.3 660.6 992.3 672.8 1004.1 684.2C1016.1 695.7 1027.9 707.7 1039.7 719.7C1051.6 731.8 1063.8 745.1 1075.2 756.5C1085.4 766.7 1095.2 776.6 1104.9 784.9C1113.4 792.2 1120.1 796.6 1129.8 804.0C1143.5 814.4 1163.0 828.9 1179.6 841.4C1196.2 853.8 1214.5 867.4 1229.4 878.7C1241.6 888.0 1253.1 896.4 1262.6 904.4C1270.3 910.8 1276.3 916.7 1282.6 922.7C1288.5 928.3 1293.5 935.0 1299.2 939.3C1304.1 943.0 1309.3 944.1 1314.1 947.6C1319.3 951.4 1324.2 957.0 1329.0 961.7C1333.6 966.2 1337.9 972.1 1342.3 975.0C1345.6 977.2 1349.0 977.7 1352.3 978.8C1355.6 979.9 1358.7 980.1 1362.2 981.7C1366.8 983.8 1371.8 988.6 1377.2 991.6C1382.9 994.7 1389.5 997.0 1395.4 999.9C1401.1 1002.8 1407.6 1006.6 1412.1 1009.0C1415.2 1010.7 1417.0 1011.6 1420.0 1013.2C1424.0 1015.3 1431.4 1021.2 1434.1 1020.7C1435.4 1020.5 1435.2 1018.2 1436.6 1017.9C1439.6 1017.3 1447.7 1023.2 1453.2 1025.7C1458.7 1028.2 1464.4 1030.3 1469.8 1033.1C1475.4 1036.0 1481.9 1040.0 1486.4 1043.1C1489.7 1045.4 1492.0 1047.4 1494.7 1049.7C1497.5 1052.1 1499.9 1055.2 1503.0 1057.2C1506.0 1059.1 1509.0 1059.8 1513.0 1061.4C1519.1 1063.9 1527.7 1067.4 1536.2 1070.5C1546.2 1074.2 1558.4 1078.0 1569.4 1082.1C1580.5 1086.3 1591.5 1091.1 1602.6 1095.4C1613.6 1099.7 1624.7 1104.1 1635.8 1107.8C1646.8 1111.5 1659.8 1115.1 1669.0 1117.8C1675.5 1119.7 1680.5 1120.2 1685.6 1122.5C1690.4 1124.6 1694.3 1128.7 1698.9 1130.8C1703.2 1132.8 1707.4 1133.3 1712.2 1135.2C1718.2 1137.6 1727.0 1141.5 1732.1 1144.4C1735.6 1146.4 1736.9 1148.5 1740.4 1150.2C1745.2 1152.6 1753.5 1154.2 1758.7 1156.0C1762.6 1157.4 1765.7 1158.1 1769.0 1159.8C1772.4 1161.6 1775.4 1163.8 1778.9 1166.4C1783.1 1169.6 1787.9 1175.3 1792.2 1178.0C1795.6 1180.1 1798.7 1180.9 1802.2 1182.2C1805.9 1183.6 1810.3 1184.8 1813.8 1186.3C1816.8 1187.6 1819.3 1188.6 1822.1 1190.5C1825.4 1192.7 1828.7 1197.5 1832.1 1199.3C1834.8 1200.7 1837.5 1201.2 1840.4 1201.3C1843.5 1201.4 1847.3 1199.7 1850.3 1199.6C1852.7 1199.5 1854.6 1199.7 1857.0 1200.4C1860.1 1201.3 1863.7 1204.1 1866.9 1205.4C1869.7 1206.5 1872.8 1207.8 1875.2 1207.9C1877.1 1208.0 1878.0 1207.0 1880.2 1206.8C1884.1 1206.4 1891.8 1206.6 1896.8 1206.8C1901.0 1207.0 1904.7 1207.3 1908.4 1207.9C1911.9 1208.5 1915.5 1209.3 1918.4 1210.4C1920.9 1211.3 1922.9 1212.7 1925.0 1213.7C1926.8 1214.5 1928.1 1215.6 1930.0 1215.9C1932.4 1216.3 1935.9 1214.6 1938.3 1215.1C1940.3 1215.5 1941.3 1217.4 1943.3 1217.9C1945.7 1218.5 1949.6 1217.0 1951.6 1217.9C1953.2 1218.6 1953.5 1221.3 1954.9 1221.7C1956.3 1222.1 1958.0 1220.5 1959.9 1220.4C1962.3 1220.3 1966.0 1221.3 1968.2 1222.0C1969.8 1222.6 1970.8 1223.8 1972.3 1224.0C1974.1 1224.2 1976.7 1222.3 1978.2 1222.9C1979.7 1223.5 1980.0 1226.8 1981.5 1227.5C1983.0 1228.2 1985.9 1227.7 1987.3 1227.0C1988.5 1226.4 1988.8 1224.3 1989.8 1224.2C1991.1 1224.1 1993.1 1228.1 1994.8 1228.2C1996.4 1228.3 1998.2 1226.8 1999.7 1225.4C2001.6 1223.7 2003.0 1219.2 2004.7 1218.2C2005.8 1217.6 2007.0 1217.3 2008.0 1217.9C2009.7 1218.9 2011.0 1227.1 2012.2 1227.0C2013.2 1226.9 2013.9 1222.0 2014.7 1219.5"/></defs>
<g stroke="#f0f"><use href="#p9" stroke-width="3.40"/>
<use href="#p9" stroke-width="0.80" transform="translate(1.40 1.40)"/>
<use href="#p9" stroke-width="0.80" transform="translate(1.40 -1.40)"/>
<use href="#p9" stroke-width="0.80" transform="translate(-1.40 1.40)"/>
<use href="#p9" stroke-width="0.80" transform="translate(-1.40 -1.40)"/>
</g>
<defs><path id="p10" d="M872.4 356.6L875.1 359.6L878.7 361.1L882.7 361.7L886.0 363.9L889.1 366.6L892.0 369.4L894.8 372.3L897.9 375.0L901.5 376.8L905.3 378.0M925.2 393.1L928.1 395.9L931.0 398.8L934.2 401.3L937.5 403.5L940.9 405.7L944.4 407.9L947.9 409.9L951.8 410.6L955.8 410.4L959.0 412.8M977.3 427.7L980.3 430.4L983.3 433.1L986.3 435.9L989.2 438.7L992.2 441.5L995.1 444.3L998.0 447.1L1000.9 449.9L1003.8 452.8L1006.6 455.6M1024.0 474.0L1026.8 477.0L1029.5 479.9L1032.3 482.9L1035.1 485.8L1037.9 488.8L1040.6 491.7L1043.3 494.7L1046.0 497.8L1048.7 500.8L1051.3 503.9M1066.3 525.0L1068.8 528.2L1071.3 531.4L1073.8 534.6L1076.3 537.7L1078.9 540.9L1081.4 544.0L1084.0 547.2L1086.6 550.3L1089.2 553.4L1091.7 556.5M1106.3 576.0L1108.6 579.3L1110.8 582.7L1113.0 586.2L1115.1 589.6L1117.2 593.0L1119.4 596.5L1121.6 599.9L1123.8 603.3L1126.1 606.6L1128.4 609.9M1144.7 629.3L1147.5 632.2L1150.3 635.1L1153.2 638.0L1156.1 640.8L1159.0 643.6L1162.0 646.4L1165.0 649.1L1168.0 651.9L1171.0 654.6L1174.0 657.3M1193.0 672.7L1196.0 675.4L1199.0 678.1L1202.0 680.8L1205.0 683.6L1208.0 686.4L1210.9 689.1L1213.8 691.9L1216.8 694.7L1219.7 697.5L1222.6 700.3M1240.3 717.7L1243.3 720.5L1246.2 723.2L1249.2 726.0L1252.1 728.8L1255.1 731.5L1258.1 734.2L1261.2 736.9L1264.2 739.6L1267.3 742.2L1270.4 744.8M1290.6 759.2L1293.9 761.5L1297.3 763.6L1300.7 765.8L1303.9 768.2L1306.9 770.8L1309.8 773.6L1312.4 776.6L1314.8 779.9L1316.9 783.2L1319.1 786.6"/></defs>
<g stroke="#f0f"><use href="#p10" stroke-width="3.40"/>
<use href="#p10" stroke-width="0.80" transform="translate(1.40 1.40)"/>
<use href="#p10" stroke-width="0.80" transform="translate(1.40 -1.40)"/>
<use href="#p10" stroke-width="0.80" transform="translate(-1.40 1.40)"/>
<use href="#p10" stroke-width="0.80" transform="translate(-1.40 -1.40)"/>
</g>
</g>
<g font-size="76" fill="#262626">
<text x="360.1" y="1507.2" text-anchor="middle">500</text>
<text x="773.3" y="1507.2" text-anchor="middle">1000</text>
<text x="1186.5" y="1507.2" text-anchor="middle">1500</text>
<text x="1599.8" y="1507.2" text-anchor="middle">2000</text>
<text x="2013.0" y="1507.2" text-anchor="middle">2500</text>
<text x="208.8" y="1430.9" text-anchor="end">0</text>
<text x="210.3" y="1090.3" text-anchor="end">0.2</text>
<text x="210.3" y="749.7" text-anchor="end">0.4</text>
<text x="210.3" y="409.1" text-anchor="end">0.6</text>
<text x="210.3" y="68.5" text-anchor="end">0.8</text>
<text x="1126.3" y="1608.7" text-anchor="middle" font-size="76.4">Wavelength in nm</text>
<text transform="translate(68.2 722.3) rotate(-90)" text-anchor="middle">Refletance</text>
</g>
<rect x="1101.1" y="64" width="892.9" height="454.2" fill="#fff" stroke="#262626" stroke-width="3.8"/>
<g font-size="69" fill="#000">
<path d="M1116.8 115.3H1282" stroke="#000" stroke-width="3.5"/>
<text x="1294.3" y="141.7">Diesel</text>
<path d="M1116.8 203.3H1282" stroke="#0ff" stroke-width="3.5"/>
<text x="1294.3" y="229.5">Lubrication</text>
<path d="M1116.8 291.3H1282" stroke="#00f" stroke-width="3.5"/>
<text x="1294.3" y="317.3">Fuel</text>
<path d="M1116.8 379.3H1282" stroke="#f00" stroke-width="3.5"/>
<text x="1294.3" y="405.1">Hydaulik</text>
<path d="M1116.8 467.3H1282" stroke="#f0f" stroke-width="3.5"/>
<text x="1294.3" y="492.9">Reflective background</text>
</g>
</svg></body></html>
